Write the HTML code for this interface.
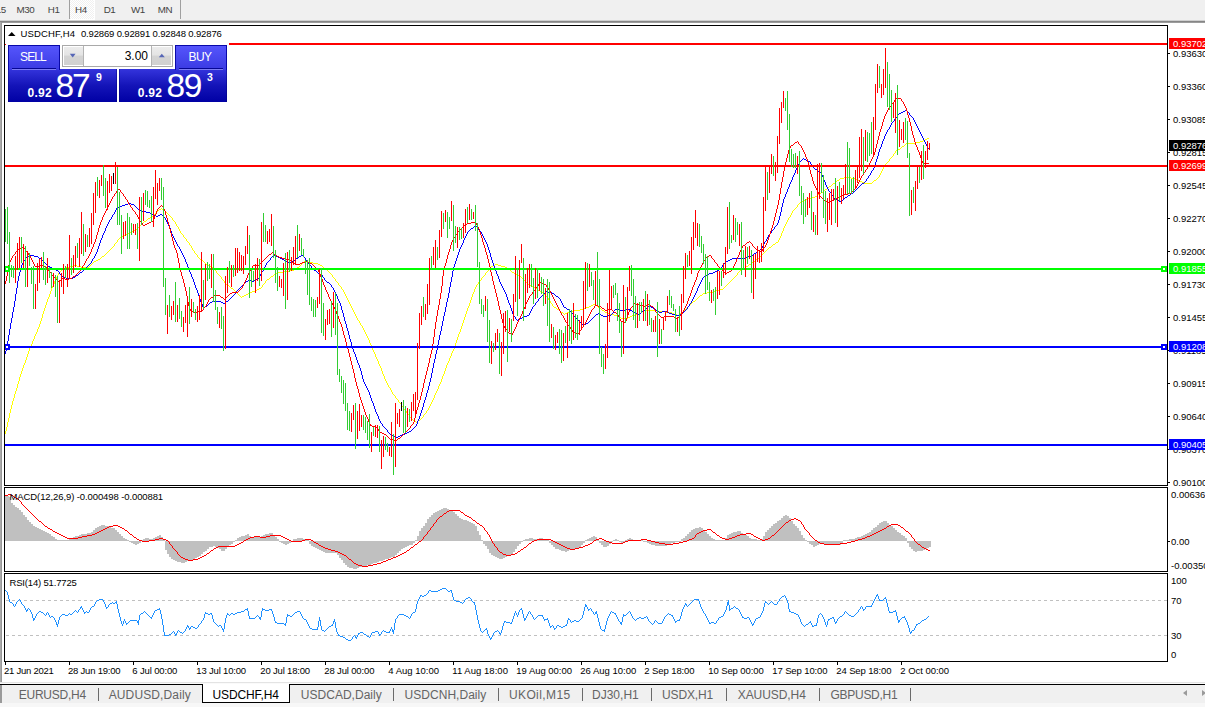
<!DOCTYPE html>
<html><head><meta charset="utf-8"><title>USDCHF,H4</title>
<style>
html,body{margin:0;padding:0}
html{overflow:hidden;width:1205px;height:707px}
body{width:1205px;height:707px;overflow:hidden;background:#fff;position:relative;font-family:"Liberation Sans",sans-serif}
#top{position:absolute;left:0;top:0;width:1205px;height:20px;background:#f0f0f0}
#topl1{position:absolute;left:0;top:20px;width:1205px;height:1px;background:#d0d0d0}
#topl2{position:absolute;left:0;top:21px;width:1205px;height:1px;background:#868686}
#topl3{position:absolute;left:0;top:22px;width:1205px;height:1px;background:#9c9c9c}
#leftstrip{position:absolute;left:0;top:22px;width:2px;height:661px;background:linear-gradient(90deg,#b4b4b4,#8e8e8e)}
.tf{position:absolute;top:3.9px;font-size:9.8px;line-height:11px;color:#444;letter-spacing:-0.45px}
#h4bg{position:absolute;left:70px;top:0;width:24px;height:19px;background:conic-gradient(#fff 25%,#f0f0f0 0 50%,#fff 0 75%,#f0f0f0 0);background-size:2px 2px;border-right:1px solid #fff;border-bottom:1px solid #fff}
.vsep{position:absolute;top:0;width:1px;height:19px;background:#a0a0a0}
svg{position:absolute;left:0;top:0}
svg text{font-family:"Liberation Sans",sans-serif}
#tabbar{position:absolute;left:0;top:682px;width:1205px;height:25px;background:#f7f7f7}
#tabbar .l1{position:absolute;left:0;top:0;width:1205px;height:1px;background:#e3e3e3}
#tabbar .l0{position:absolute;left:0;top:1px;width:1205px;height:1px;background:#fafafa}
#tabbar .l2{position:absolute;left:0;top:2px;width:1205px;height:1px;background:#000}
#tabbar .bg{position:absolute;left:0;top:3px;width:1205px;height:18px;background:#f0f0f0}
#tabbar .ls{position:absolute;left:0;top:3px;width:2px;height:18px;background:#9a9a9a}
.tab{position:absolute;top:6px;font-size:12px;line-height:14px;color:#646464;letter-spacing:-0.3px;white-space:nowrap}
.tab.act{color:#000}
.sep{position:absolute;top:6px;width:1px;height:13px;background:#6a6a6a}
#acttab{position:absolute;left:202px;top:2px;width:86px;height:18px;background:#fff;border:1px solid #000;border-top:none}
.arr{position:absolute;top:8px;width:0;height:0;border-top:3.5px solid transparent;border-bottom:3.5px solid transparent}
/* trade panel */
#tp{position:absolute;left:8px;top:45px;width:219px;height:57px}
#tp div,#tp span{position:absolute}
.btn{top:0;width:52px;height:25px;background:linear-gradient(#5656fd,#3a3ae2);box-shadow:inset 1px 1px 0 #0808a8,inset -1px 0 0 #0808a8}
.btn span{left:-1px;width:52px;text-align:center;top:5.6px;font-size:12px;line-height:12px;color:#fff;letter-spacing:-0.9px}
.pp{top:24px;height:33px;background:linear-gradient(#3434dc,#1414b8 50%,#0000a4);box-shadow:inset 1px 0 0 rgba(0,0,120,.45),inset -1px 0 0 rgba(0,0,120,.45)}
.ul{top:23px;height:1px;background:#060692}
.ul2{top:24px;height:1px;background:#7c7cf2}
.small{font-size:12px;font-weight:bold;color:#fff;line-height:12px;letter-spacing:0.3px}
.big{font-size:33.5px;color:#fff;line-height:34px;letter-spacing:-2.2px}
.big.r{letter-spacing:-1.4px}
.sup{font-size:10.5px;font-weight:bold;color:#fff;line-height:11px}
#vol{left:54px;top:0;width:109px;height:20px;border:1px solid #a9a9a9;background:#fff}
.sp{top:1px;width:19px;height:18px;background:linear-gradient(#ececec,#e4e4e4 45%,#d4d4d4 50%,#d0d0d0)}
</style></head><body>
<div id="top"></div><div id="topl1"></div><div id="topl2"></div><div id="topl3"></div>
<div id="h4bg"></div><i class="vsep" style="left:69px"></i><i class="vsep" style="left:180px"></i>
<span class="tf" style="left:-4.2px">15</span><span class="tf" style="left:16.6px">M30</span><span class="tf" style="left:47.8px">H1</span><span class="tf" style="left:75px">H4</span><span class="tf" style="left:103.7px">D1</span><span class="tf" style="left:131px">W1</span><span class="tf" style="left:157.7px">MN</span>
<div id="leftstrip"></div>
<svg width="1205" height="707" viewBox="0 0 1205 707" shape-rendering="crispEdges">
<path d="M5.5 431V434M6.5 427V431M7.5 422V427M8.5 418V422M9.5 413V418M10.5 409V413M11.5 405V409M12.5 401V405M13.5 398V401M14.5 394V398M15.5 391V394M16.5 388V391M17.5 384V388M18.5 381V384M19.5 377V381M20.5 374V377M21.5 371V374M22.5 368V371M23.5 365V368M24.5 363V365M25.5 360V363M26.5 357V360M27.5 354V357M28.5 351V354M29.5 348V351M30.5 346V348M31.5 344V346M32.5 341V344M33.5 339V341M34.5 336V339M35.5 334V336M36.5 332V334M37.5 329V332M38.5 327V329M39.5 324V327M40.5 321V324M41.5 318V321M42.5 314V318M43.5 311V314M44.5 308V311M45.5 305V308M46.5 302V305M47.5 299V302M48.5 297V299M49.5 294V297M50.5 291V294M51.5 288V291M52.5 286V288M53.5 284V286M54.5 281V284M55.5 279V281M56.5 277V279M57.5 275V277M58.5 273V275M59.5 272V273M60.5 271V272M61.5 269V271M62.5 268V269M63.5 268V269M64.5 268V269M65.5 267V268M66.5 267V268M67.5 267V268M68.5 267V268M69.5 267V268M70.5 266V267M71.5 266V267M72.5 266V267M73.5 266V267M74.5 265V266M75.5 265V266M76.5 265V266M77.5 266V267M78.5 266V267M79.5 266V267M80.5 266V267M81.5 267V268M82.5 267V268M83.5 267V268M84.5 267V268M85.5 267V268M86.5 267V268M87.5 267V268M88.5 267V268M89.5 266V267M90.5 265V266M91.5 264V265M92.5 263V264M93.5 262V263M94.5 261V262M95.5 261V262M96.5 260V261M97.5 260V261M98.5 259V260M99.5 259V260M100.5 258V259M101.5 257V258M102.5 256V257M103.5 256V257M104.5 255V256M105.5 254V255M106.5 253V254M107.5 252V253M108.5 251V252M109.5 250V251M110.5 249V250M111.5 248V249M112.5 247V248M113.5 246V247M114.5 244V246M115.5 243V244M116.5 242V243M117.5 240V242M118.5 239V240M119.5 238V239M120.5 237V238M121.5 237V238M122.5 236V237M123.5 236V237M124.5 235V236M125.5 235V236M126.5 234V235M127.5 234V235M128.5 233V234M129.5 233V234M130.5 232V233M131.5 232V233M132.5 231V232M133.5 231V232M134.5 230V231M135.5 230V231M136.5 229V230M137.5 228V229M138.5 227V228M139.5 226V227M140.5 225V226M141.5 224V225M142.5 223V224M143.5 222V223M144.5 221V222M145.5 221V222M146.5 220V221M147.5 219V220M148.5 218V219M149.5 218V219M150.5 217V218M151.5 216V217M152.5 216V217M153.5 215V216M154.5 214V215M155.5 213V214M156.5 212V213M157.5 211V212M158.5 210V211M159.5 209V210M160.5 209V210M161.5 208V209M162.5 209V210M163.5 210V211M164.5 210V211M165.5 211V212M166.5 212V213M167.5 213V214M168.5 214V215M169.5 215V216M170.5 216V217M171.5 217V218M172.5 218V220M173.5 220V221M174.5 221V222M175.5 222V224M176.5 224V226M177.5 226V227M178.5 227V229M179.5 229V231M180.5 231V233M181.5 233V234M182.5 234V235M183.5 235V237M184.5 237V238M185.5 238V239M186.5 239V241M187.5 241V242M188.5 242V243M189.5 243V245M190.5 245V246M191.5 246V248M192.5 248V250M193.5 250V251M194.5 251V253M195.5 253V254M196.5 254V255M197.5 255V257M198.5 257V258M199.5 258V259M200.5 259V260M201.5 260V261M202.5 260V261M203.5 261V262M204.5 262V263M205.5 263V264M206.5 264V265M207.5 264V265M208.5 265V266M209.5 265V266M210.5 266V267M211.5 266V267M212.5 267V268M213.5 268V269M214.5 269V270M215.5 270V271M216.5 271V273M217.5 273V274M218.5 274V275M219.5 275V276M220.5 276V277M221.5 277V279M222.5 279V280M223.5 280V281M224.5 281V283M225.5 283V284M226.5 284V285M227.5 285V286M228.5 285V286M229.5 286V287M230.5 287V288M231.5 288V289M232.5 288V289M233.5 289V290M234.5 290V291M235.5 291V292M236.5 292V293M237.5 293V294M238.5 294V295M239.5 295V296M240.5 296V297M241.5 297V298M242.5 296V297M243.5 296V297M244.5 295V296M245.5 295V296M246.5 294V295M247.5 294V295M248.5 293V294M249.5 293V294M250.5 292V293M251.5 292V293M252.5 291V292M253.5 291V292M254.5 291V292M255.5 290V291M256.5 290V291M257.5 289V290M258.5 289V290M259.5 288V289M260.5 288V289M261.5 287V288M262.5 285V287M263.5 284V285M264.5 283V284M265.5 281V283M266.5 280V281M267.5 279V280M268.5 279V280M269.5 278V279M270.5 277V278M271.5 276V277M272.5 276V277M273.5 275V276M274.5 274V275M275.5 274V275M276.5 273V274M277.5 273V274M278.5 272V273M279.5 272V273M280.5 272V273M281.5 272V273M282.5 272V273M283.5 271V272M284.5 271V272M285.5 271V272M286.5 271V272M287.5 271V272M288.5 271V272M289.5 271V272M290.5 270V271M291.5 270V271M292.5 270V271M293.5 270V271M294.5 269V270M295.5 269V270M296.5 268V269M297.5 267V268M298.5 267V268M299.5 266V267M300.5 265V266M301.5 264V265M302.5 263V264M303.5 262V263M304.5 261V262M305.5 261V262M306.5 261V262M307.5 262V263M308.5 262V263M309.5 262V263M310.5 262V263M311.5 262V263M312.5 262V263M313.5 263V264M314.5 263V264M315.5 263V264M316.5 263V264M317.5 263V264M318.5 264V265M319.5 264V265M320.5 265V266M321.5 265V266M322.5 266V267M323.5 267V268M324.5 268V269M325.5 269V270M326.5 269V270M327.5 270V271M328.5 271V272M329.5 272V273M330.5 273V274M331.5 274V275M332.5 275V277M333.5 277V278M334.5 278V279M335.5 279V281M336.5 281V282M337.5 282V283M338.5 283V285M339.5 285V286M340.5 286V287M341.5 287V289M342.5 289V290M343.5 290V292M344.5 292V294M345.5 294V296M346.5 296V298M347.5 298V300M348.5 300V302M349.5 302V304M350.5 304V306M351.5 306V308M352.5 308V310M353.5 310V312M354.5 312V314M355.5 314V316M356.5 316V318M357.5 318V320M358.5 320V321M359.5 321V323M360.5 323V325M361.5 325V326M362.5 326V328M363.5 328V330M364.5 330V332M365.5 332V334M366.5 334V336M367.5 336V338M368.5 338V340M369.5 340V343M370.5 343V345M371.5 345V347M372.5 347V350M373.5 350V352M374.5 352V354M375.5 354V357M376.5 357V359M377.5 359V361M378.5 361V364M379.5 364V366M380.5 366V368M381.5 368V371M382.5 371V374M383.5 374V376M384.5 376V379M385.5 379V381M386.5 381V383M387.5 383V385M388.5 385V387M389.5 387V388M390.5 388V390M391.5 390V392M392.5 392V394M393.5 394V395M394.5 395V396M395.5 396V398M396.5 398V399M397.5 399V400M398.5 400V402M399.5 402V403M400.5 403V404M401.5 404V406M402.5 406V407M403.5 407V409M404.5 409V410M405.5 410V411M406.5 411V413M407.5 413V414M408.5 414V415M409.5 415V417M410.5 417V418M411.5 418V419M412.5 419V420M413.5 420V421M414.5 420V421M415.5 421V422M416.5 422V423M417.5 421V422M418.5 420V421M419.5 420V421M420.5 419V420M421.5 418V419M422.5 417V418M423.5 415V417M424.5 414V415M425.5 413V414M426.5 411V413M427.5 410V411M428.5 408V410M429.5 406V408M430.5 404V406M431.5 402V404M432.5 400V402M433.5 398V400M434.5 395V398M435.5 393V395M436.5 391V393M437.5 389V391M438.5 386V389M439.5 384V386M440.5 382V384M441.5 379V382M442.5 376V379M443.5 374V376M444.5 371V374M445.5 368V371M446.5 365V368M447.5 363V365M448.5 361V363M449.5 358V361M450.5 356V358M451.5 353V356M452.5 351V353M453.5 349V351M454.5 346V349M455.5 343V346M456.5 340V343M457.5 337V340M458.5 334V337M459.5 332V334M460.5 329V332M461.5 326V329M462.5 323V326M463.5 320V323M464.5 317V320M465.5 314V317M466.5 311V314M467.5 308V311M468.5 306V308M469.5 303V306M470.5 300V303M471.5 297V300M472.5 294V297M473.5 292V294M474.5 289V292M475.5 287V289M476.5 285V287M477.5 284V285M478.5 282V284M479.5 281V282M480.5 280V281M481.5 278V280M482.5 277V278M483.5 276V277M484.5 275V276M485.5 273V275M486.5 272V273M487.5 271V272M488.5 269V271M489.5 268V269M490.5 267V268M491.5 266V267M492.5 266V267M493.5 265V266M494.5 265V266M495.5 264V265M496.5 264V265M497.5 264V265M498.5 265V266M499.5 265V266M500.5 265V266M501.5 266V267M502.5 266V267M503.5 266V267M504.5 266V267M505.5 267V268M506.5 267V268M507.5 268V269M508.5 269V270M509.5 269V270M510.5 270V271M511.5 271V272M512.5 272V273M513.5 272V273M514.5 273V274M515.5 274V275M516.5 274V275M517.5 275V276M518.5 275V276M519.5 276V277M520.5 276V277M521.5 277V278M522.5 278V279M523.5 279V280M524.5 280V281M525.5 281V282M526.5 282V283M527.5 283V284M528.5 284V285M529.5 284V285M530.5 285V286M531.5 285V286M532.5 286V287M533.5 286V287M534.5 287V288M535.5 288V289M536.5 288V289M537.5 289V290M538.5 290V291M539.5 290V291M540.5 291V292M541.5 291V292M542.5 292V293M543.5 293V294M544.5 294V295M545.5 295V296M546.5 296V297M547.5 297V298M548.5 298V300M549.5 300V301M550.5 301V303M551.5 303V304M552.5 304V306M553.5 306V307M554.5 307V308M555.5 307V308M556.5 308V309M557.5 309V310M558.5 309V310M559.5 310V311M560.5 311V312M561.5 312V313M562.5 312V313M563.5 313V314M564.5 314V315M565.5 313V314M566.5 313V314M567.5 312V313M568.5 312V313M569.5 311V312M570.5 311V312M571.5 311V312M572.5 311V312M573.5 311V312M574.5 310V311M575.5 310V311M576.5 310V311M577.5 310V311M578.5 310V311M579.5 310V311M580.5 309V310M581.5 309V310M582.5 309V310M583.5 308V309M584.5 308V309M585.5 308V309M586.5 307V308M587.5 307V308M588.5 307V308M589.5 306V307M590.5 306V307M591.5 305V306M592.5 305V306M593.5 304V305M594.5 304V305M595.5 305V306M596.5 305V306M597.5 306V307M598.5 307V308M599.5 307V308M600.5 308V309M601.5 309V310M602.5 310V311M603.5 310V311M604.5 311V312M605.5 312V313M606.5 312V313M607.5 313V314M608.5 313V314M609.5 313V314M610.5 314V315M611.5 314V315M612.5 314V315M613.5 314V315M614.5 315V316M615.5 315V316M616.5 315V316M617.5 315V316M618.5 316V317M619.5 317V318M620.5 317V318M621.5 318V319M622.5 318V319M623.5 318V319M624.5 318V319M625.5 318V319M626.5 318V319M627.5 318V319M628.5 317V318M629.5 317V318M630.5 316V317M631.5 316V317M632.5 315V316M633.5 315V316M634.5 315V316M635.5 314V315M636.5 314V315M637.5 314V315M638.5 314V315M639.5 313V314M640.5 313V314M641.5 312V313M642.5 311V312M643.5 311V312M644.5 310V311M645.5 310V311M646.5 310V311M647.5 310V311M648.5 310V311M649.5 310V311M650.5 310V311M651.5 310V311M652.5 310V311M653.5 310V311M654.5 310V311M655.5 310V311M656.5 310V311M657.5 310V311M658.5 311V312M659.5 311V312M660.5 311V312M661.5 311V312M662.5 311V312M663.5 311V312M664.5 311V312M665.5 311V312M666.5 312V313M667.5 312V313M668.5 312V313M669.5 312V313M670.5 312V313M671.5 312V313M672.5 313V314M673.5 313V314M674.5 314V315M675.5 314V315M676.5 314V315M677.5 315V316M678.5 315V316M679.5 314V315M680.5 313V314M681.5 313V314M682.5 312V313M683.5 311V312M684.5 310V311M685.5 309V310M686.5 308V309M687.5 307V308M688.5 306V307M689.5 305V306M690.5 304V305M691.5 303V304M692.5 302V303M693.5 301V302M694.5 301V302M695.5 300V301M696.5 299V300M697.5 298V299M698.5 297V298M699.5 296V297M700.5 295V296M701.5 295V296M702.5 294V295M703.5 293V294M704.5 293V294M705.5 293V294M706.5 293V294M707.5 292V293M708.5 292V293M709.5 292V293M710.5 292V293M711.5 292V293M712.5 292V293M713.5 291V292M714.5 291V292M715.5 291V292M716.5 290V291M717.5 290V291M718.5 290V291M719.5 290V291M720.5 289V290M721.5 289V290M722.5 289V290M723.5 288V289M724.5 287V288M725.5 286V287M726.5 285V286M727.5 284V285M728.5 283V284M729.5 282V283M730.5 281V282M731.5 280V281M732.5 279V280M733.5 278V279M734.5 277V278M735.5 276V277M736.5 275V276M737.5 273V275M738.5 272V273M739.5 271V272M740.5 270V271M741.5 270V271M742.5 269V270M743.5 268V269M744.5 268V269M745.5 267V268M746.5 266V267M747.5 266V267M748.5 265V266M749.5 264V265M750.5 264V265M751.5 263V264M752.5 262V263M753.5 261V262M754.5 261V262M755.5 260V261M756.5 259V260M757.5 259V260M758.5 258V259M759.5 257V258M760.5 256V257M761.5 255V256M762.5 254V255M763.5 253V254M764.5 252V253M765.5 251V252M766.5 250V251M767.5 249V250M768.5 248V249M769.5 247V248M770.5 247V248M771.5 246V247M772.5 245V246M773.5 244V245M774.5 244V245M775.5 243V244M776.5 242V243M777.5 242V243M778.5 240V242M779.5 238V240M780.5 236V238M781.5 233V236M782.5 231V233M783.5 228V231M784.5 226V228M785.5 224V226M786.5 222V224M787.5 220V222M788.5 218V220M789.5 217V218M790.5 215V217M791.5 213V215M792.5 211V213M793.5 210V211M794.5 209V210M795.5 208V209M796.5 207V208M797.5 205V207M798.5 204V205M799.5 203V204M800.5 202V203M801.5 201V202M802.5 201V202M803.5 200V201M804.5 200V201M805.5 199V200M806.5 199V200M807.5 198V199M808.5 198V199M809.5 198V199M810.5 198V199M811.5 197V198M812.5 197V198M813.5 197V198M814.5 197V198M815.5 196V197M816.5 196V197M817.5 195V196M818.5 194V195M819.5 194V195M820.5 193V194M821.5 192V193M822.5 192V193M823.5 191V192M824.5 190V191M825.5 189V190M826.5 189V190M827.5 188V189M828.5 187V188M829.5 186V187M830.5 186V187M831.5 185V186M832.5 184V185M833.5 183V184M834.5 183V184M835.5 182V183M836.5 181V182M837.5 180V181M838.5 180V181M839.5 179V180M840.5 178V179M841.5 178V179M842.5 178V179M843.5 178V179M844.5 177V178M845.5 177V178M846.5 177V178M847.5 177V178M848.5 177V178M849.5 177V178M850.5 177V178M851.5 178V179M852.5 178V179M853.5 178V179M854.5 178V179M855.5 179V180M856.5 179V180M857.5 179V180M858.5 180V181M859.5 180V181M860.5 181V182M861.5 181V182M862.5 182V183M863.5 182V183M864.5 183V184M865.5 183V184M866.5 183V184M867.5 183V184M868.5 183V184M869.5 183V184M870.5 183V184M871.5 183V184M872.5 182V183M873.5 181V182M874.5 180V181M875.5 180V181M876.5 179V180M877.5 178V179M878.5 177V178M879.5 175V177M880.5 173V175M881.5 171V173M882.5 169V171M883.5 167V169M884.5 165V167M885.5 164V165M886.5 163V164M887.5 162V163M888.5 161V162M889.5 159V161M890.5 158V159M891.5 157V158M892.5 156V157M893.5 154V156M894.5 153V154M895.5 151V153M896.5 150V151M897.5 150V151M898.5 149V150M899.5 149V150M900.5 148V149M901.5 147V148M902.5 146V147M903.5 146V147M904.5 145V146M905.5 144V145M906.5 143V144M907.5 143V144M908.5 143V144M909.5 143V144M910.5 143V144M911.5 143V144M912.5 143V144M913.5 143V144M914.5 143V144M915.5 143V144M916.5 142V143M917.5 142V143M918.5 142V143M919.5 142V143M920.5 141V142M921.5 141V142M922.5 141V142M923.5 140V141M924.5 140V141M925.5 139V140M926.5 139V140M927.5 138V139M928.5 138V139" fill="none" stroke="#ffff00" stroke-width="1"/>
<path d="M5.5 351V354M6.5 346V351M7.5 341V346M8.5 335V341M9.5 329V335M10.5 323V329M11.5 318V323M12.5 312V318M13.5 307V312M14.5 301V307M15.5 294V301M16.5 288V294M17.5 281V288M18.5 276V281M19.5 272V276M20.5 269V272M21.5 265V269M22.5 263V265M23.5 261V263M24.5 260V261M25.5 258V260M26.5 257V258M27.5 256V257M28.5 256V257M29.5 255V256M30.5 255V256M31.5 255V256M32.5 255V256M33.5 255V256M34.5 256V257M35.5 256V257M36.5 256V257M37.5 256V257M38.5 257V258M39.5 258V259M40.5 258V259M41.5 259V260M42.5 260V261M43.5 261V262M44.5 262V263M45.5 263V264M46.5 264V265M47.5 265V266M48.5 266V267M49.5 266V267M50.5 267V268M51.5 267V268M52.5 268V269M53.5 268V269M54.5 269V270M55.5 269V270M56.5 270V271M57.5 270V271M58.5 271V272M59.5 272V274M60.5 274V275M61.5 275V276M62.5 276V277M63.5 276V277M64.5 277V278M65.5 277V278M66.5 278V279M67.5 278V279M68.5 278V279M69.5 278V279M70.5 278V279M71.5 278V279M72.5 278V279M73.5 277V278M74.5 277V278M75.5 276V277M76.5 275V276M77.5 275V276M78.5 274V275M79.5 273V274M80.5 272V273M81.5 272V273M82.5 271V272M83.5 270V271M84.5 269V270M85.5 268V269M86.5 267V268M87.5 266V267M88.5 265V266M89.5 264V265M90.5 263V264M91.5 261V263M92.5 259V261M93.5 258V259M94.5 256V258M95.5 254V256M96.5 252V254M97.5 249V252M98.5 246V249M99.5 243V246M100.5 240V243M101.5 238V240M102.5 235V238M103.5 233V235M104.5 231V233M105.5 228V231M106.5 226V228M107.5 224V226M108.5 222V224M109.5 220V222M110.5 219V220M111.5 217V219M112.5 215V217M113.5 214V215M114.5 212V214M115.5 210V212M116.5 208V210M117.5 207V208M118.5 207V208M119.5 206V207M120.5 206V207M121.5 206V207M122.5 205V206M123.5 205V206M124.5 205V206M125.5 204V205M126.5 204V205M127.5 204V205M128.5 203V204M129.5 203V204M130.5 203V204M131.5 204V205M132.5 204V205M133.5 204V205M134.5 205V206M135.5 206V207M136.5 207V208M137.5 208V209M138.5 209V210M139.5 209V210M140.5 210V211M141.5 210V211M142.5 211V212M143.5 211V212M144.5 211V212M145.5 211V212M146.5 212V213M147.5 212V213M148.5 212V213M149.5 212V213M150.5 213V214M151.5 213V214M152.5 214V215M153.5 214V215M154.5 215V216M155.5 215V216M156.5 216V217M157.5 216V217M158.5 215V216M159.5 215V216M160.5 214V215M161.5 214V215M162.5 215V216M163.5 216V217M164.5 217V218M165.5 218V220M166.5 220V222M167.5 222V224M168.5 224V226M169.5 226V228M170.5 228V231M171.5 231V234M172.5 234V236M173.5 236V238M174.5 238V240M175.5 240V242M176.5 242V244M177.5 244V246M178.5 246V247M179.5 247V249M180.5 249V251M181.5 251V253M182.5 253V255M183.5 255V257M184.5 257V259M185.5 259V262M186.5 262V264M187.5 264V267M188.5 267V269M189.5 269V272M190.5 272V274M191.5 274V277M192.5 277V279M193.5 279V282M194.5 282V285M195.5 285V288M196.5 288V290M197.5 290V293M198.5 293V296M199.5 296V299M200.5 299V302M201.5 302V304M202.5 304V307M203.5 307V309M204.5 307V308M205.5 306V307M206.5 306V307M207.5 305V306M208.5 304V305M209.5 303V304M210.5 302V303M211.5 302V303M212.5 301V302M213.5 301V302M214.5 301V302M215.5 301V302M216.5 301V302M217.5 301V302M218.5 301V302M219.5 301V302M220.5 301V302M221.5 302V303M222.5 302V303M223.5 303V304M224.5 303V304M225.5 302V303M226.5 301V302M227.5 301V302M228.5 300V301M229.5 299V300M230.5 298V299M231.5 297V298M232.5 296V297M233.5 295V296M234.5 294V295M235.5 293V294M236.5 291V293M237.5 290V291M238.5 289V290M239.5 288V289M240.5 287V288M241.5 286V287M242.5 285V286M243.5 284V285M244.5 283V284M245.5 282V283M246.5 281V282M247.5 281V282M248.5 280V281M249.5 280V281M250.5 280V281M251.5 281V282M252.5 281V282M253.5 281V282M254.5 280V281M255.5 280V281M256.5 279V280M257.5 279V280M258.5 278V279M259.5 276V278M260.5 274V276M261.5 272V274M262.5 271V272M263.5 269V271M264.5 267V269M265.5 265V267M266.5 263V265M267.5 262V263M268.5 261V262M269.5 260V261M270.5 258V260M271.5 257V258M272.5 256V257M273.5 255V256M274.5 255V256M275.5 256V257M276.5 256V257M277.5 256V257M278.5 257V258M279.5 257V258M280.5 258V259M281.5 258V259M282.5 259V260M283.5 259V260M284.5 260V261M285.5 260V261M286.5 261V262M287.5 261V262M288.5 262V263M289.5 262V263M290.5 262V263M291.5 261V262M292.5 261V262M293.5 260V261M294.5 260V261M295.5 259V260M296.5 258V259M297.5 258V259M298.5 257V258M299.5 256V257M300.5 256V257M301.5 255V256M302.5 255V256M303.5 256V257M304.5 257V258M305.5 258V260M306.5 260V261M307.5 261V262M308.5 262V264M309.5 264V265M310.5 265V266M311.5 266V268M312.5 268V269M313.5 269V270M314.5 270V271M315.5 270V271M316.5 271V272M317.5 272V273M318.5 273V274M319.5 273V274M320.5 274V275M321.5 274V275M322.5 275V277M323.5 277V278M324.5 278V280M325.5 280V281M326.5 281V282M327.5 282V283M328.5 282V283M329.5 283V284M330.5 284V285M331.5 285V287M332.5 287V288M333.5 288V290M334.5 290V292M335.5 292V294M336.5 294V296M337.5 296V299M338.5 299V301M339.5 301V303M340.5 303V306M341.5 306V310M342.5 310V313M343.5 313V317M344.5 317V321M345.5 321V324M346.5 324V328M347.5 328V331M348.5 331V335M349.5 335V339M350.5 339V342M351.5 342V346M352.5 346V349M353.5 349V352M354.5 352V354M355.5 354V357M356.5 357V360M357.5 360V363M358.5 363V365M359.5 365V368M360.5 368V371M361.5 371V375M362.5 375V379M363.5 379V382M364.5 382V384M365.5 384V386M366.5 386V388M367.5 388V390M368.5 390V392M369.5 392V395M370.5 395V398M371.5 398V401M372.5 401V403M373.5 403V406M374.5 406V409M375.5 409V412M376.5 412V414M377.5 414V416M378.5 416V419M379.5 419V421M380.5 421V423M381.5 423V424M382.5 424V426M383.5 426V427M384.5 427V428M385.5 428V429M386.5 429V430M387.5 430V432M388.5 432V433M389.5 433V434M390.5 434V435M391.5 434V435M392.5 435V436M393.5 435V436M394.5 436V437M395.5 436V437M396.5 437V438M397.5 437V438M398.5 436V437M399.5 436V437M400.5 435V436M401.5 435V436M402.5 434V435M403.5 434V435M404.5 434V435M405.5 433V434M406.5 433V434M407.5 432V433M408.5 432V433M409.5 431V432M410.5 431V432M411.5 430V431M412.5 429V430M413.5 428V429M414.5 427V428M415.5 426V427M416.5 424V426M417.5 421V424M418.5 419V421M419.5 416V419M420.5 413V416M421.5 410V413M422.5 407V410M423.5 403V407M424.5 400V403M425.5 397V400M426.5 393V397M427.5 390V393M428.5 386V390M429.5 382V386M430.5 378V382M431.5 373V378M432.5 368V373M433.5 363V368M434.5 359V363M435.5 354V359M436.5 350V354M437.5 345V350M438.5 340V345M439.5 335V340M440.5 331V335M441.5 326V331M442.5 321V326M443.5 316V321M444.5 312V316M445.5 307V312M446.5 302V307M447.5 298V302M448.5 293V298M449.5 287V293M450.5 282V287M451.5 277V282M452.5 271V277M453.5 267V271M454.5 264V267M455.5 261V264M456.5 258V261M457.5 255V258M458.5 252V255M459.5 249V252M460.5 247V249M461.5 245V247M462.5 243V245M463.5 240V243M464.5 238V240M465.5 236V238M466.5 234V236M467.5 232V234M468.5 231V232M469.5 230V231M470.5 229V230M471.5 228V229M472.5 228V229M473.5 227V228M474.5 226V227M475.5 225V226M476.5 226V227M477.5 227V228M478.5 228V230M479.5 230V231M480.5 231V232M481.5 232V234M482.5 234V236M483.5 236V238M484.5 238V240M485.5 240V242M486.5 242V244M487.5 244V247M488.5 247V250M489.5 250V253M490.5 253V257M491.5 257V260M492.5 260V263M493.5 263V266M494.5 266V268M495.5 268V271M496.5 271V274M497.5 274V276M498.5 276V279M499.5 279V282M500.5 282V284M501.5 284V286M502.5 286V288M503.5 288V290M504.5 290V292M505.5 292V294M506.5 294V297M507.5 297V300M508.5 300V303M509.5 303V305M510.5 305V308M511.5 308V311M512.5 311V314M513.5 314V316M514.5 316V317M515.5 317V319M516.5 319V320M517.5 320V321M518.5 319V320M519.5 319V320M520.5 318V319M521.5 318V319M522.5 317V318M523.5 317V318M524.5 316V317M525.5 316V317M526.5 316V317M527.5 315V316M528.5 315V316M529.5 313V315M530.5 311V313M531.5 309V311M532.5 307V309M533.5 306V307M534.5 305V306M535.5 303V305M536.5 302V303M537.5 301V302M538.5 299V301M539.5 298V299M540.5 297V298M541.5 296V297M542.5 295V296M543.5 294V295M544.5 293V294M545.5 292V293M546.5 291V292M547.5 291V292M548.5 292V293M549.5 292V293M550.5 292V293M551.5 292V293M552.5 293V294M553.5 293V294M554.5 294V295M555.5 295V296M556.5 296V297M557.5 296V297M558.5 297V298M559.5 298V299M560.5 299V301M561.5 301V303M562.5 303V305M563.5 305V307M564.5 307V308M565.5 307V308M566.5 308V309M567.5 309V310M568.5 309V310M569.5 310V311M570.5 311V312M571.5 312V313M572.5 313V314M573.5 314V316M574.5 316V317M575.5 317V318M576.5 318V319M577.5 319V320M578.5 320V321M579.5 321V322M580.5 322V323M581.5 323V324M582.5 324V325M583.5 325V326M584.5 324V325M585.5 324V325M586.5 323V324M587.5 323V324M588.5 322V323M589.5 321V322M590.5 320V321M591.5 319V320M592.5 318V319M593.5 317V318M594.5 316V317M595.5 315V316M596.5 314V315M597.5 314V315M598.5 313V314M599.5 314V315M600.5 314V315M601.5 315V316M602.5 315V316M603.5 316V317M604.5 316V317M605.5 316V317M606.5 316V317M607.5 315V316M608.5 315V316M609.5 315V316M610.5 315V316M611.5 314V315M612.5 313V314M613.5 311V313M614.5 310V311M615.5 309V310M616.5 309V310M617.5 309V310M618.5 309V310M619.5 310V311M620.5 310V311M621.5 310V311M622.5 310V311M623.5 310V311M624.5 310V311M625.5 310V311M626.5 309V310M627.5 309V310M628.5 309V310M629.5 309V310M630.5 310V311M631.5 310V311M632.5 311V312M633.5 311V312M634.5 312V313M635.5 313V314M636.5 313V314M637.5 314V315M638.5 314V315M639.5 313V314M640.5 313V314M641.5 312V313M642.5 311V312M643.5 311V312M644.5 310V311M645.5 309V310M646.5 308V309M647.5 307V308M648.5 306V307M649.5 305V306M650.5 306V307M651.5 307V308M652.5 307V308M653.5 308V309M654.5 309V310M655.5 309V310M656.5 310V311M657.5 311V312M658.5 311V312M659.5 312V313M660.5 312V313M661.5 312V313M662.5 311V312M663.5 311V312M664.5 311V312M665.5 311V312M666.5 311V312M667.5 312V313M668.5 312V313M669.5 313V314M670.5 313V314M671.5 313V314M672.5 314V315M673.5 314V315M674.5 314V315M675.5 315V316M676.5 315V316M677.5 315V316M678.5 315V316M679.5 314V315M680.5 314V315M681.5 314V315M682.5 313V314M683.5 312V313M684.5 311V312M685.5 310V311M686.5 309V310M687.5 307V309M688.5 306V307M689.5 304V306M690.5 303V304M691.5 301V303M692.5 299V301M693.5 297V299M694.5 295V297M695.5 293V295M696.5 291V293M697.5 288V291M698.5 286V288M699.5 284V286M700.5 282V284M701.5 280V282M702.5 278V280M703.5 277V278M704.5 276V277M705.5 276V277M706.5 275V276M707.5 274V275M708.5 274V275M709.5 273V274M710.5 273V274M711.5 273V274M712.5 273V274M713.5 272V273M714.5 272V273M715.5 271V272M716.5 271V272M717.5 270V271M718.5 270V271M719.5 269V270M720.5 268V269M721.5 267V268M722.5 265V267M723.5 264V265M724.5 263V264M725.5 262V263M726.5 261V262M727.5 261V262M728.5 260V261M729.5 260V261M730.5 259V260M731.5 259V260M732.5 258V259M733.5 258V259M734.5 258V259M735.5 258V259M736.5 258V259M737.5 258V259M738.5 258V259M739.5 258V259M740.5 258V259M741.5 258V259M742.5 258V259M743.5 258V259M744.5 258V259M745.5 258V259M746.5 257V258M747.5 257V258M748.5 256V257M749.5 256V257M750.5 256V257M751.5 255V256M752.5 255V256M753.5 254V255M754.5 253V254M755.5 253V254M756.5 252V253M757.5 251V252M758.5 250V251M759.5 250V251M760.5 249V250M761.5 248V249M762.5 246V248M763.5 244V246M764.5 242V244M765.5 241V242M766.5 239V241M767.5 237V239M768.5 235V237M769.5 234V235M770.5 233V234M771.5 231V233M772.5 230V231M773.5 229V230M774.5 227V229M775.5 226V227M776.5 225V226M777.5 223V225M778.5 220V223M779.5 216V220M780.5 212V216M781.5 207V212M782.5 203V207M783.5 199V203M784.5 197V199M785.5 194V197M786.5 192V194M787.5 189V192M788.5 187V189M789.5 184V187M790.5 182V184M791.5 180V182M792.5 177V180M793.5 175V177M794.5 173V175M795.5 170V173M796.5 168V170M797.5 166V168M798.5 164V166M799.5 162V164M800.5 161V162M801.5 160V161M802.5 159V160M803.5 158V159M804.5 159V160M805.5 159V160M806.5 160V161M807.5 160V161M808.5 161V162M809.5 161V162M810.5 162V164M811.5 164V165M812.5 165V166M813.5 166V168M814.5 168V169M815.5 169V170M816.5 169V170M817.5 170V171M818.5 171V172M819.5 172V173M820.5 172V173M821.5 173V175M822.5 175V177M823.5 177V180M824.5 180V182M825.5 182V185M826.5 185V187M827.5 187V189M828.5 189V191M829.5 191V192M830.5 192V193M831.5 193V195M832.5 195V196M833.5 196V198M834.5 198V199M835.5 199V200M836.5 199V200M837.5 200V201M838.5 200V201M839.5 201V202M840.5 201V202M841.5 200V201M842.5 200V201M843.5 199V200M844.5 198V199M845.5 197V198M846.5 197V198M847.5 196V197M848.5 195V196M849.5 195V196M850.5 194V195M851.5 193V194M852.5 193V194M853.5 192V193M854.5 191V192M855.5 190V191M856.5 189V190M857.5 188V189M858.5 187V188M859.5 186V187M860.5 185V186M861.5 184V185M862.5 183V184M863.5 183V184M864.5 182V183M865.5 181V182M866.5 179V181M867.5 178V179M868.5 176V178M869.5 175V176M870.5 173V175M871.5 171V173M872.5 170V171M873.5 168V170M874.5 166V168M875.5 162V166M876.5 159V162M877.5 156V159M878.5 152V156M879.5 149V152M880.5 147V149M881.5 144V147M882.5 141V144M883.5 139V141M884.5 136V139M885.5 134V136M886.5 132V134M887.5 130V132M888.5 129V130M889.5 127V129M890.5 125V127M891.5 123V125M892.5 122V123M893.5 121V122M894.5 119V121M895.5 118V119M896.5 117V118M897.5 115V117M898.5 114V115M899.5 113V114M900.5 113V114M901.5 112V113M902.5 112V113M903.5 111V112M904.5 111V112M905.5 110V111M906.5 110V111M907.5 111V112M908.5 112V113M909.5 113V115M910.5 115V116M911.5 116V117M912.5 117V118M913.5 118V120M914.5 120V122M915.5 122V124M916.5 124V126M917.5 126V128M918.5 128V130M919.5 130V132M920.5 132V134M921.5 134V136M922.5 136V138M923.5 138V140M924.5 140V142M925.5 142V144M926.5 144V146M927.5 146V148M928.5 148V149" fill="none" stroke="#0000ff" stroke-width="1"/>
<path d="M5.5 281V284M6.5 276V281M7.5 270V276M8.5 265V270M9.5 262V265M10.5 260V262M11.5 258V260M12.5 256V258M13.5 255V256M14.5 254V255M15.5 252V254M16.5 251V252M17.5 250V251M18.5 249V250M19.5 248V249M20.5 248V249M21.5 247V248M22.5 247V248M23.5 247V248M24.5 248V249M25.5 249V251M26.5 251V252M27.5 252V253M28.5 253V255M29.5 255V256M30.5 256V258M31.5 258V260M32.5 260V262M33.5 262V264M34.5 264V266M35.5 266V267M36.5 266V267M37.5 266V267M38.5 266V267M39.5 265V266M40.5 265V266M41.5 265V266M42.5 265V266M43.5 266V267M44.5 266V267M45.5 266V267M46.5 267V268M47.5 268V269M48.5 269V271M49.5 271V272M50.5 272V273M51.5 273V275M52.5 275V276M53.5 276V277M54.5 277V278M55.5 278V279M56.5 279V280M57.5 280V281M58.5 281V282M59.5 281V282M60.5 280V281M61.5 279V280M62.5 278V279M63.5 278V279M64.5 278V279M65.5 279V280M66.5 279V280M67.5 279V280M68.5 279V280M69.5 278V279M70.5 278V279M71.5 278V279M72.5 277V278M73.5 276V277M74.5 276V277M75.5 275V276M76.5 274V275M77.5 273V274M78.5 272V273M79.5 271V272M80.5 269V271M81.5 268V269M82.5 266V268M83.5 265V266M84.5 263V265M85.5 261V263M86.5 259V261M87.5 258V259M88.5 256V258M89.5 254V256M90.5 252V254M91.5 249V252M92.5 247V249M93.5 244V247M94.5 242V244M95.5 239V242M96.5 235V239M97.5 232V235M98.5 228V232M99.5 225V228M100.5 222V225M101.5 220V222M102.5 217V220M103.5 215V217M104.5 213V215M105.5 211V213M106.5 209V211M107.5 207V209M108.5 205V207M109.5 203V205M110.5 201V203M111.5 199V201M112.5 197V199M113.5 196V197M114.5 194V196M115.5 193V194M116.5 191V193M117.5 190V191M118.5 189V190M119.5 189V190M120.5 190V192M121.5 192V193M122.5 193V194M123.5 194V196M124.5 196V197M125.5 197V199M126.5 199V200M127.5 200V202M128.5 202V204M129.5 204V205M130.5 205V207M131.5 207V208M132.5 208V210M133.5 210V211M134.5 211V212M135.5 212V214M136.5 214V215M137.5 215V217M138.5 217V219M139.5 219V221M140.5 221V222M141.5 222V223M142.5 223V225M143.5 225V226M144.5 225V226M145.5 224V225M146.5 224V225M147.5 223V224M148.5 223V224M149.5 222V223M150.5 222V223M151.5 221V222M152.5 221V222M153.5 219V221M154.5 216V219M155.5 214V216M156.5 211V214M157.5 209V211M158.5 208V209M159.5 207V208M160.5 206V207M161.5 205V206M162.5 206V207M163.5 207V209M164.5 209V211M165.5 211V215M166.5 215V218M167.5 218V222M168.5 222V225M169.5 225V229M170.5 229V233M171.5 233V237M172.5 237V241M173.5 241V245M174.5 245V248M175.5 248V250M176.5 250V253M177.5 253V258M178.5 258V263M179.5 263V268M180.5 268V272M181.5 272V276M182.5 276V279M183.5 279V283M184.5 283V287M185.5 287V291M186.5 291V296M187.5 296V302M188.5 302V306M189.5 306V309M190.5 309V311M191.5 310V311M192.5 311V312M193.5 311V312M194.5 312V313M195.5 312V313M196.5 312V313M197.5 312V313M198.5 311V312M199.5 311V312M200.5 311V312M201.5 311V312M202.5 310V311M203.5 308V310M204.5 307V308M205.5 306V307M206.5 304V306M207.5 302V304M208.5 300V302M209.5 299V300M210.5 298V299M211.5 297V298M212.5 297V298M213.5 296V297M214.5 295V296M215.5 295V296M216.5 295V296M217.5 295V296M218.5 295V296M219.5 295V296M220.5 296V297M221.5 297V298M222.5 297V298M223.5 298V299M224.5 299V300M225.5 298V299M226.5 297V298M227.5 296V297M228.5 295V296M229.5 294V295M230.5 293V294M231.5 293V294M232.5 292V293M233.5 292V293M234.5 292V293M235.5 292V293M236.5 292V293M237.5 292V293M238.5 291V292M239.5 290V291M240.5 289V290M241.5 288V289M242.5 286V288M243.5 284V286M244.5 282V284M245.5 280V282M246.5 278V280M247.5 275V278M248.5 273V275M249.5 271V273M250.5 269V271M251.5 268V269M252.5 266V268M253.5 265V266M254.5 265V266M255.5 265V266M256.5 265V266M257.5 265V266M258.5 265V266M259.5 264V265M260.5 263V264M261.5 262V263M262.5 261V262M263.5 260V261M264.5 259V260M265.5 258V259M266.5 257V258M267.5 256V257M268.5 255V256M269.5 254V255M270.5 254V255M271.5 253V254M272.5 252V253M273.5 253V254M274.5 254V255M275.5 254V255M276.5 255V256M277.5 256V257M278.5 256V257M279.5 257V258M280.5 257V258M281.5 257V258M282.5 258V259M283.5 258V259M284.5 258V259M285.5 258V259M286.5 259V260M287.5 259V260M288.5 259V260M289.5 260V261M290.5 260V261M291.5 261V262M292.5 262V263M293.5 262V263M294.5 263V264M295.5 263V264M296.5 264V265M297.5 264V265M298.5 264V265M299.5 264V265M300.5 263V264M301.5 263V264M302.5 262V263M303.5 262V263M304.5 262V263M305.5 261V262M306.5 261V262M307.5 261V262M308.5 262V263M309.5 262V263M310.5 263V264M311.5 263V264M312.5 264V265M313.5 265V266M314.5 266V267M315.5 267V268M316.5 268V269M317.5 269V270M318.5 270V272M319.5 272V274M320.5 274V277M321.5 277V279M322.5 279V282M323.5 282V285M324.5 285V287M325.5 287V290M326.5 290V292M327.5 292V294M328.5 294V297M329.5 297V299M330.5 299V301M331.5 301V303M332.5 303V305M333.5 305V307M334.5 307V309M335.5 309V311M336.5 311V314M337.5 314V316M338.5 316V319M339.5 319V322M340.5 322V324M341.5 324V327M342.5 327V331M343.5 331V335M344.5 335V338M345.5 338V342M346.5 342V346M347.5 346V349M348.5 349V353M349.5 353V357M350.5 357V361M351.5 361V365M352.5 365V369M353.5 369V373M354.5 373V378M355.5 378V382M356.5 382V386M357.5 386V389M358.5 389V393M359.5 393V397M360.5 397V400M361.5 400V403M362.5 403V406M363.5 406V409M364.5 409V412M365.5 412V415M366.5 415V417M367.5 417V419M368.5 419V422M369.5 422V424M370.5 424V426M371.5 425V426M372.5 426V427M373.5 426V427M374.5 426V427M375.5 427V428M376.5 427V428M377.5 428V429M378.5 429V431M379.5 431V432M380.5 432V433M381.5 432V433M382.5 433V434M383.5 433V434M384.5 434V435M385.5 434V435M386.5 435V436M387.5 436V437M388.5 437V438M389.5 438V439M390.5 439V440M391.5 439V440M392.5 439V440M393.5 440V441M394.5 440V441M395.5 440V441M396.5 440V441M397.5 439V440M398.5 438V439M399.5 438V439M400.5 437V438M401.5 436V437M402.5 435V436M403.5 434V435M404.5 433V434M405.5 432V433M406.5 431V432M407.5 430V431M408.5 429V430M409.5 428V429M410.5 426V428M411.5 425V426M412.5 424V425M413.5 422V424M414.5 418V422M415.5 414V418M416.5 410V414M417.5 407V410M418.5 403V407M419.5 400V403M420.5 396V400M421.5 392V396M422.5 388V392M423.5 383V388M424.5 379V383M425.5 375V379M426.5 371V375M427.5 367V371M428.5 363V367M429.5 358V363M430.5 354V358M431.5 350V354M432.5 344V350M433.5 337V344M434.5 329V337M435.5 322V329M436.5 316V322M437.5 310V316M438.5 305V310M439.5 299V305M440.5 293V299M441.5 286V293M442.5 276V286M443.5 270V276M444.5 266V270M445.5 263V266M446.5 259V263M447.5 255V259M448.5 252V255M449.5 249V252M450.5 245V249M451.5 242V245M452.5 240V242M453.5 238V240M454.5 237V238M455.5 235V237M456.5 234V235M457.5 232V234M458.5 231V232M459.5 230V231M460.5 229V230M461.5 228V229M462.5 227V228M463.5 226V227M464.5 225V226M465.5 224V225M466.5 224V225M467.5 223V224M468.5 223V224M469.5 223V224M470.5 223V224M471.5 222V223M472.5 222V223M473.5 222V223M474.5 222V223M475.5 222V223M476.5 223V225M477.5 225V227M478.5 227V229M479.5 229V232M480.5 232V235M481.5 235V238M482.5 238V242M483.5 242V245M484.5 245V248M485.5 248V252M486.5 252V255M487.5 255V259M488.5 259V263M489.5 263V267M490.5 267V272M491.5 272V276M492.5 276V281M493.5 281V285M494.5 285V289M495.5 289V293M496.5 293V297M497.5 297V301M498.5 301V306M499.5 306V310M500.5 310V314M501.5 314V319M502.5 319V323M503.5 323V326M504.5 326V328M505.5 328V329M506.5 329V330M507.5 330V332M508.5 332V333M509.5 333V334M510.5 333V334M511.5 334V335M512.5 333V335M513.5 331V333M514.5 329V331M515.5 327V329M516.5 324V327M517.5 322V324M518.5 320V322M519.5 318V320M520.5 316V318M521.5 314V316M522.5 311V314M523.5 309V311M524.5 307V309M525.5 304V307M526.5 302V304M527.5 300V302M528.5 298V300M529.5 296V298M530.5 295V296M531.5 294V295M532.5 292V294M533.5 291V292M534.5 290V291M535.5 288V290M536.5 287V288M537.5 286V287M538.5 284V286M539.5 283V284M540.5 282V283M541.5 282V283M542.5 283V284M543.5 283V284M544.5 284V285M545.5 284V285M546.5 285V287M547.5 287V288M548.5 288V290M549.5 290V291M550.5 291V293M551.5 293V295M552.5 295V297M553.5 297V299M554.5 299V301M555.5 301V303M556.5 303V305M557.5 305V307M558.5 307V309M559.5 309V311M560.5 311V313M561.5 313V315M562.5 315V316M563.5 316V318M564.5 318V320M565.5 320V322M566.5 322V323M567.5 323V325M568.5 325V326M569.5 326V327M570.5 327V329M571.5 329V330M572.5 330V332M573.5 332V333M574.5 332V333M575.5 332V333M576.5 333V334M577.5 333V334M578.5 333V334M579.5 331V333M580.5 330V331M581.5 328V330M582.5 327V328M583.5 325V327M584.5 324V325M585.5 322V324M586.5 320V322M587.5 318V320M588.5 316V318M589.5 314V316M590.5 312V314M591.5 310V312M592.5 309V310M593.5 308V309M594.5 306V308M595.5 305V306M596.5 305V306M597.5 305V306M598.5 306V307M599.5 306V307M600.5 306V307M601.5 307V308M602.5 308V309M603.5 308V309M604.5 309V310M605.5 310V311M606.5 310V311M607.5 310V311M608.5 309V310M609.5 309V310M610.5 309V310M611.5 309V310M612.5 310V311M613.5 311V312M614.5 312V313M615.5 312V313M616.5 313V314M617.5 314V315M618.5 315V317M619.5 317V319M620.5 319V321M621.5 321V322M622.5 321V322M623.5 322V323M624.5 322V323M625.5 321V323M626.5 318V321M627.5 315V318M628.5 312V315M629.5 310V312M630.5 308V310M631.5 307V308M632.5 306V307M633.5 304V306M634.5 303V304M635.5 303V304M636.5 304V305M637.5 304V305M638.5 304V305M639.5 304V305M640.5 305V306M641.5 305V306M642.5 305V306M643.5 306V307M644.5 306V307M645.5 306V307M646.5 305V306M647.5 305V306M648.5 304V305M649.5 304V305M650.5 305V306M651.5 306V307M652.5 306V307M653.5 307V308M654.5 308V310M655.5 310V312M656.5 312V313M657.5 313V314M658.5 314V315M659.5 315V316M660.5 316V317M661.5 317V318M662.5 317V318M663.5 317V318M664.5 316V317M665.5 316V317M666.5 316V317M667.5 316V317M668.5 316V317M669.5 316V317M670.5 316V317M671.5 316V317M672.5 316V317M673.5 316V317M674.5 317V318M675.5 317V318M676.5 318V319M677.5 318V319M678.5 317V318M679.5 316V317M680.5 315V316M681.5 314V315M682.5 312V314M683.5 310V312M684.5 308V310M685.5 306V308M686.5 304V306M687.5 301V304M688.5 298V301M689.5 296V298M690.5 293V296M691.5 290V293M692.5 287V290M693.5 285V287M694.5 282V285M695.5 280V282M696.5 277V280M697.5 273V277M698.5 271V273M699.5 269V271M700.5 267V269M701.5 265V267M702.5 263V265M703.5 261V263M704.5 260V261M705.5 258V260M706.5 257V258M707.5 256V257M708.5 256V257M709.5 255V256M710.5 255V256M711.5 256V258M712.5 258V259M713.5 259V260M714.5 260V262M715.5 262V263M716.5 263V264M717.5 264V266M718.5 266V267M719.5 267V268M720.5 268V269M721.5 269V270M722.5 270V271M723.5 271V272M724.5 272V273M725.5 273V274M726.5 273V274M727.5 272V273M728.5 272V273M729.5 271V272M730.5 271V272M731.5 269V271M732.5 268V269M733.5 266V268M734.5 264V266M735.5 262V264M736.5 259V262M737.5 257V259M738.5 255V257M739.5 252V255M740.5 250V252M741.5 248V250M742.5 246V248M743.5 245V246M744.5 245V246M745.5 244V245M746.5 243V244M747.5 242V243M748.5 242V243M749.5 241V242M750.5 242V243M751.5 243V244M752.5 244V246M753.5 246V247M754.5 247V248M755.5 248V249M756.5 249V250M757.5 249V250M758.5 250V251M759.5 250V251M760.5 251V252M761.5 251V252M762.5 249V251M763.5 248V249M764.5 247V248M765.5 245V247M766.5 243V245M767.5 240V243M768.5 237V240M769.5 234V237M770.5 231V234M771.5 228V231M772.5 225V228M773.5 221V225M774.5 217V221M775.5 213V217M776.5 209V213M777.5 205V209M778.5 200V205M779.5 194V200M780.5 188V194M781.5 182V188M782.5 177V182M783.5 171V177M784.5 166V171M785.5 162V166M786.5 158V162M787.5 154V158M788.5 150V154M789.5 148V150M790.5 146V148M791.5 145V146M792.5 145V146M793.5 144V145M794.5 143V144M795.5 142V143M796.5 142V143M797.5 141V142M798.5 142V144M799.5 144V145M800.5 145V146M801.5 146V148M802.5 148V150M803.5 150V152M804.5 152V154M805.5 154V157M806.5 157V159M807.5 159V162M808.5 162V166M809.5 166V170M810.5 170V174M811.5 174V177M812.5 177V181M813.5 181V184M814.5 184V186M815.5 186V188M816.5 188V190M817.5 190V192M818.5 192V194M819.5 194V196M820.5 196V197M821.5 197V198M822.5 198V199M823.5 199V200M824.5 200V201M825.5 201V202M826.5 201V202M827.5 202V203M828.5 202V203M829.5 201V202M830.5 201V202M831.5 200V201M832.5 200V201M833.5 199V200M834.5 199V200M835.5 198V199M836.5 198V199M837.5 197V198M838.5 197V198M839.5 196V197M840.5 196V197M841.5 195V196M842.5 195V196M843.5 195V196M844.5 194V195M845.5 194V195M846.5 194V195M847.5 194V195M848.5 193V194M849.5 193V194M850.5 193V194M851.5 192V193M852.5 191V192M853.5 190V191M854.5 189V190M855.5 188V189M856.5 186V188M857.5 184V186M858.5 182V184M859.5 180V182M860.5 178V180M861.5 176V178M862.5 175V176M863.5 173V175M864.5 172V173M865.5 170V172M866.5 169V170M867.5 167V169M868.5 165V167M869.5 163V165M870.5 161V163M871.5 159V161M872.5 157V159M873.5 155V157M874.5 152V155M875.5 148V152M876.5 144V148M877.5 140V144M878.5 136V140M879.5 132V136M880.5 129V132M881.5 126V129M882.5 122V126M883.5 119V122M884.5 116V119M885.5 114V116M886.5 112V114M887.5 110V112M888.5 108V110M889.5 107V108M890.5 106V107M891.5 104V106M892.5 103V104M893.5 102V103M894.5 100V102M895.5 99V100M896.5 98V99M897.5 98V99M898.5 98V99M899.5 98V99M900.5 98V99M901.5 99V101M902.5 101V102M903.5 102V104M904.5 104V106M905.5 106V108M906.5 108V111M907.5 111V115M908.5 115V118M909.5 118V122M910.5 122V126M911.5 126V131M912.5 131V135M913.5 135V138M914.5 138V142M915.5 142V145M916.5 145V147M917.5 147V150M918.5 150V152M919.5 152V155M920.5 155V158M921.5 158V161M922.5 161V163M923.5 162V163M924.5 163V164M925.5 163V164M926.5 163V164M927.5 163V164M928.5 163V164" fill="none" stroke="#ff0000" stroke-width="1"/>
<rect x="5" y="43" width="1162" height="2" fill="#ff0000"/>
<rect x="5" y="165" width="1162" height="2" fill="#ff0000"/>
<rect x="5" y="268" width="1162" height="2" fill="#00ff00"/>
<rect x="5" y="346" width="1162" height="2" fill="#0000ff"/>
<rect x="5" y="444" width="1162" height="2" fill="#0000ff"/>
<rect x="6" y="41" width="223" height="62" fill="#fff"/><rect x="5" y="43" width="1" height="1" fill="#fff"/>
<path d="M15.5 256V283M17.5 243V270M19.5 237V268M23.5 244V268M27.5 251V287M35.5 284V309M37.5 263V291M39.5 259V283M41.5 257V268M47.5 258V283M53.5 273V287M59.5 280V323M61.5 273V287M63.5 264V294M67.5 264V287M69.5 235V278M73.5 255V273M75.5 246V267M79.5 238V267M81.5 212V254M85.5 234V252M89.5 228V247M91.5 213V244M93.5 193V225M95.5 182V213M99.5 180V198M101.5 175V186M107.5 181V210M109.5 174V193M111.5 176V191M115.5 162V184M123.5 222V239M125.5 221V236M133.5 224V233M135.5 224V235M139.5 197V261M143.5 193V221M153.5 187V227M155.5 170V199M157.5 183V205M159.5 178V191M167.5 305V334M171.5 306V320M173.5 301V315M177.5 305V322M183.5 317V332M185.5 305V323M187.5 296V337M191.5 299V317M197.5 306V322M199.5 295V320M201.5 252V312M205.5 264V300M211.5 254V288M219.5 312V328M225.5 276V349M227.5 267V293M231.5 265V287M235.5 248V276M237.5 248V273M239.5 252V271M241.5 255V271M243.5 256V274M245.5 246V265M247.5 226V254M255.5 264V293M257.5 258V281M261.5 222V281M267.5 231V244M269.5 229V242M271.5 214V246M279.5 276V287M281.5 279V288M283.5 263V296M287.5 252V300M291.5 257V271M293.5 247V265M295.5 236V265M299.5 234V251M317.5 297V308M319.5 269V304M325.5 319V340M327.5 310V325M329.5 309V324M333.5 292V328M351.5 413V432M353.5 405V420M357.5 411V439M359.5 404V431M361.5 415V427M371.5 432V452M375.5 425V437M377.5 425V438M381.5 440V469M383.5 436V457M389.5 447V456M391.5 422V457M395.5 403V467M397.5 413V424M399.5 409V427M407.5 408V427M411.5 402V421M413.5 394V411M415.5 392V414M417.5 343V400M419.5 313V349M421.5 306V325M425.5 304V320M427.5 284V314M429.5 258V305M433.5 247V265M435.5 240V268M439.5 230V258M441.5 211V237M445.5 210V222M451.5 201V221M457.5 227V248M463.5 223V238M465.5 209V233M469.5 204V220M473.5 212V219M485.5 296V311M491.5 341V364M495.5 333V350M497.5 329V342M501.5 342V376M503.5 313V354M505.5 311V332M509.5 318V332M513.5 294V321M515.5 256V302M519.5 260V299M521.5 244V263M525.5 274V309M527.5 268V293M529.5 264V288M535.5 268V299M539.5 273V291M545.5 288V304M551.5 324V338M555.5 335V350M557.5 332V343M563.5 333V361M567.5 313V358M573.5 303V340M579.5 320V335M581.5 316V329M583.5 281V325M585.5 262V309M589.5 264V287M595.5 271V306M605.5 344V369M607.5 303V358M609.5 270V322M611.5 286V309M623.5 285V354M627.5 287V318M629.5 266V291M637.5 303V328M643.5 299V321M647.5 294V326M653.5 320V332M655.5 316V332M659.5 319V344M663.5 317V330M665.5 311V321M667.5 296V313M677.5 317V332M681.5 294V330M683.5 266V303M685.5 253V279M689.5 251V266M691.5 237V274M693.5 222V250M695.5 210V238M697.5 223V246M711.5 290V303M717.5 271V299M719.5 271V295M723.5 263V278M725.5 247V275M727.5 207V254M733.5 215V240M739.5 224V246M745.5 246V277M749.5 246V259M753.5 255V299M755.5 254V279M757.5 246V262M759.5 250V263M761.5 243V262M763.5 197V252M765.5 166V211M769.5 166V193M771.5 154V174M775.5 162V181M777.5 136V173M779.5 108V144M781.5 102V123M783.5 91V108M797.5 156V174M807.5 197V215M809.5 193V208M813.5 212V232M817.5 164V235M819.5 163V199M827.5 198V232M829.5 193V220M831.5 189V225M833.5 189V201M837.5 186V227M841.5 188V204M843.5 185V199M845.5 164V194M855.5 170V189M857.5 166V183M859.5 137V178M861.5 129V171M865.5 130V161M873.5 117V157M875.5 84V130M877.5 64V93M881.5 84V98M883.5 69V95M885.5 48V88M893.5 102V118M895.5 93V133M899.5 120V147M901.5 129V140M903.5 122V143M911.5 190V215M915.5 181V211M917.5 167V189M921.5 151V180M925.5 151V168M927.5 141V160M929.5 143V150" stroke="#ff0000" stroke-width="1" fill="none"/>
<path d="M5.5 209V242M7.5 207V244M9.5 232V283M11.5 265V277M13.5 266V278M21.5 237V263M25.5 246V287M29.5 253V266M31.5 267V284M33.5 266V309M43.5 252V280M45.5 266V285M49.5 267V278M51.5 272V288M55.5 275V297M57.5 276V323M65.5 266V278M71.5 258V275M77.5 243V258M83.5 224V256M87.5 235V247M97.5 177V196M103.5 165V196M105.5 178V208M117.5 167V225M119.5 192V225M121.5 215V254M127.5 213V249M129.5 217V249M131.5 223V235M137.5 223V249M141.5 197V225M145.5 190V205M147.5 191V207M149.5 200V208M151.5 196V222M161.5 178V200M163.5 187V287M165.5 278V315M169.5 295V317M175.5 282V322M179.5 298V319M181.5 311V327M189.5 287V324M193.5 302V313M195.5 309V320M203.5 280V309M207.5 262V281M209.5 264V279M213.5 254V302M215.5 290V310M217.5 307V324M221.5 307V329M223.5 316V351M229.5 261V283M233.5 265V277M249.5 235V298M251.5 270V287M253.5 271V281M259.5 259V286M263.5 213V242M265.5 225V242M273.5 226V258M275.5 250V283M277.5 267V291M285.5 253V309M289.5 250V272M297.5 225V258M301.5 238V255M303.5 249V257M305.5 260V274M307.5 260V295M309.5 258V305M311.5 297V311M313.5 299V317M315.5 300V317M321.5 268V333M323.5 303V336M331.5 301V337M335.5 293V335M337.5 303V375M339.5 369V382M341.5 376V393M343.5 380V404M345.5 383V411M347.5 403V430M349.5 411V431M355.5 403V449M363.5 415V430M365.5 417V433M367.5 421V440M369.5 414V448M373.5 427V436M379.5 426V452M385.5 437V450M387.5 443V452M393.5 434V475M403.5 400V433M405.5 406V433M409.5 409V422M423.5 297V317M431.5 256V270M437.5 247V260M443.5 213V229M447.5 212V238M449.5 217V229M453.5 205V251M455.5 226V243M459.5 227V240M461.5 228V239M467.5 207V223M471.5 209V220M475.5 205V231M477.5 223V267M479.5 262V304M481.5 299V314M483.5 305V317M487.5 299V342M489.5 320V363M493.5 343V352M499.5 333V374M507.5 310V362M511.5 319V342M517.5 268V316M523.5 258V321M531.5 264V287M533.5 278V304M537.5 268V298M541.5 277V294M543.5 279V306M547.5 279V326M549.5 282V342M553.5 327V349M559.5 329V354M561.5 330V363M565.5 326V343M569.5 309V341M571.5 310V344M575.5 314V338M577.5 315V340M587.5 263V291M591.5 272V286M593.5 280V300M597.5 252V305M599.5 279V354M601.5 347V367M603.5 354V374M613.5 285V298M615.5 283V295M617.5 293V321M619.5 303V333M621.5 322V357M625.5 297V323M631.5 265V296M633.5 279V320M635.5 296V328M639.5 302V321M641.5 302V313M645.5 291V321M649.5 300V325M651.5 318V332M657.5 302V357M661.5 329V344M669.5 290V305M671.5 296V308M673.5 304V311M675.5 309V332M679.5 306V336M687.5 255V267M699.5 224V247M701.5 236V253M703.5 244V264M705.5 254V294M707.5 256V290M709.5 282V301M713.5 289V301M715.5 287V315M721.5 271V286M729.5 202V249M731.5 235V243M735.5 218V242M737.5 222V235M741.5 222V275M743.5 250V269M747.5 247V264M751.5 250V293M767.5 172V200M773.5 156V176M785.5 98V111M787.5 91V130M789.5 114V162M791.5 149V167M793.5 154V168M795.5 153V168M799.5 151V196M801.5 186V215M803.5 193V224M805.5 199V217M811.5 191V230M815.5 215V235M821.5 163V193M823.5 175V218M825.5 191V224M835.5 178V223M839.5 182V201M847.5 142V194M849.5 148V194M851.5 179V194M853.5 177V192M863.5 137V174M867.5 132V162M869.5 133V156M871.5 122V154M879.5 66V88M887.5 62V107M889.5 74V110M891.5 90V122M897.5 85V155M905.5 118V140M907.5 121V158M909.5 153V216M913.5 187V203M919.5 167V183M923.5 145V179" stroke="#32cd32" stroke-width="1" fill="none"/>
<path d="M113.5 173V184M401.5 402V411" stroke="#000000" stroke-width="1" fill="none"/>
<rect x="4" y="266" width="6" height="6" fill="#00ff00"/><rect x="6" y="268" width="2" height="2" fill="#fff"/>
<rect x="1161" y="266" width="6" height="6" fill="#00ff00"/><rect x="1163" y="268" width="2" height="2" fill="#fff"/>
<rect x="4" y="344" width="6" height="6" fill="#0000ff"/><rect x="6" y="346" width="2" height="2" fill="#fff"/>
<rect x="1161" y="344" width="6" height="6" fill="#0000ff"/><rect x="1163" y="346" width="2" height="2" fill="#fff"/>
<path d="M5.5 495V541M6.5 495V541M7.5 496V541M8.5 496V541M9.5 497V541M10.5 497V541M11.5 503V541M12.5 503V541M13.5 505V541M14.5 505V541M15.5 507V541M16.5 507V541M17.5 508V541M18.5 508V541M19.5 510V541M20.5 510V541M21.5 512V541M22.5 512V541M23.5 515V541M24.5 515V541M25.5 517V541M26.5 517V541M27.5 520V541M28.5 520V541M29.5 522V541M30.5 522V541M31.5 524V541M32.5 524V541M33.5 526V541M34.5 526V541M35.5 527V541M36.5 527V541M37.5 528V541M38.5 528V541M39.5 529V541M40.5 529V541M41.5 530V541M42.5 530V541M43.5 531V541M44.5 531V541M45.5 532V541M46.5 532V541M47.5 533V541M48.5 533V541M49.5 534V541M50.5 534V541M51.5 536V541M52.5 536V541M53.5 537V541M54.5 537V541M55.5 539V541M56.5 539V541M57.5 540V541M58.5 540V541M59.5 540V541M60.5 540V541M61.5 540V541M62.5 540V541M63.5 540V541M64.5 540V541M65.5 540V541M66.5 540V541M67.5 540V541M68.5 540V541M69.5 539V541M70.5 539V541M71.5 538V541M72.5 538V541M73.5 537V541M74.5 537V541M75.5 536V541M76.5 536V541M77.5 536V541M78.5 536V541M79.5 535V541M80.5 535V541M81.5 534V541M82.5 534V541M83.5 534V541M84.5 534V541M85.5 534V541M86.5 534V541M87.5 533V541M88.5 533V541M89.5 533V541M90.5 533V541M91.5 532V541M92.5 532V541M93.5 530V541M94.5 530V541M95.5 528V541M96.5 528V541M97.5 527V541M98.5 527V541M99.5 526V541M100.5 526V541M101.5 525V541M102.5 525V541M103.5 525V541M104.5 525V541M105.5 526V541M106.5 526V541M107.5 526V541M108.5 526V541M109.5 527V541M110.5 527V541M111.5 528V541M112.5 528V541M113.5 528V541M114.5 528V541M115.5 530V541M116.5 530V541M117.5 532V541M118.5 532V541M119.5 534V541M120.5 534V541M121.5 536V541M122.5 536V541M123.5 538V541M124.5 538V541M125.5 539V541M126.5 539V541M127.5 540V541M128.5 540V541M129.5 541V542M130.5 541V542M131.5 541V543M132.5 541V543M133.5 541V544M134.5 541V544M135.5 541V545M136.5 541V545M137.5 541V544M138.5 541V544M139.5 541V543M140.5 541V543M141.5 540V541M142.5 540V541M143.5 539V541M144.5 539V541M145.5 538V541M146.5 538V541M147.5 538V541M148.5 538V541M149.5 539V541M150.5 539V541M151.5 539V541M152.5 539V541M153.5 538V541M154.5 538V541M155.5 537V541M156.5 537V541M157.5 536V541M158.5 536V541M159.5 535V541M160.5 535V541M161.5 537V541M162.5 537V541M163.5 540V541M164.5 540V541M165.5 541V550M166.5 541V550M167.5 541V554M168.5 541V554M169.5 541V557M170.5 541V557M171.5 541V559M172.5 541V559M173.5 541V560M174.5 541V560M175.5 541V561M176.5 541V561M177.5 541V562M178.5 541V562M179.5 541V562M180.5 541V562M181.5 541V563M182.5 541V563M183.5 541V563M184.5 541V563M185.5 541V562M186.5 541V562M187.5 541V561M188.5 541V561M189.5 541V561M190.5 541V561M191.5 541V560M192.5 541V560M193.5 541V559M194.5 541V559M195.5 541V558M196.5 541V558M197.5 541V557M198.5 541V557M199.5 541V556M200.5 541V556M201.5 541V554M202.5 541V554M203.5 541V552M204.5 541V552M205.5 541V551M206.5 541V551M207.5 541V549M208.5 541V549M209.5 541V547M210.5 541V547M211.5 541V547M212.5 541V547M213.5 541V546M214.5 541V546M215.5 541V547M216.5 541V547M217.5 541V548M218.5 541V548M219.5 541V549M220.5 541V549M221.5 541V551M222.5 541V551M223.5 541V551M224.5 541V551M225.5 541V549M226.5 541V549M227.5 541V547M228.5 541V547M229.5 541V545M230.5 541V545M231.5 541V544M232.5 541V544M233.5 541V542M234.5 541V542M235.5 540V541M236.5 540V541M237.5 538V541M238.5 538V541M239.5 537V541M240.5 537V541M241.5 536V541M242.5 536V541M243.5 536V541M244.5 536V541M245.5 535V541M246.5 535V541M247.5 534V541M248.5 534V541M249.5 536V541M250.5 536V541M251.5 537V541M252.5 537V541M253.5 537V541M254.5 537V541M255.5 537V541M256.5 537V541M257.5 537V541M258.5 537V541M259.5 537V541M260.5 537V541M261.5 536V541M262.5 536V541M263.5 535V541M264.5 535V541M265.5 534V541M266.5 534V541M267.5 534V541M268.5 534V541M269.5 533V541M270.5 533V541M271.5 533V541M272.5 533V541M273.5 535V541M274.5 535V541M275.5 537V541M276.5 537V541M277.5 539V541M278.5 539V541M279.5 541V542M280.5 541V542M281.5 541V543M282.5 541V543M283.5 541V544M284.5 541V544M285.5 541V545M286.5 541V545M287.5 541V544M288.5 541V544M289.5 541V543M290.5 541V543M291.5 541V542M292.5 541V542M293.5 539V541M294.5 539V541M295.5 539V541M296.5 539V541M297.5 538V541M298.5 538V541M299.5 538V541M300.5 538V541M301.5 538V541M302.5 538V541M303.5 539V541M304.5 539V541M305.5 539V541M306.5 539V541M307.5 540V541M308.5 540V541M309.5 541V544M310.5 541V544M311.5 541V546M312.5 541V546M313.5 541V547M314.5 541V547M315.5 541V548M316.5 541V548M317.5 541V549M318.5 541V549M319.5 541V550M320.5 541V550M321.5 541V551M322.5 541V551M323.5 541V552M324.5 541V552M325.5 541V553M326.5 541V553M327.5 541V553M328.5 541V553M329.5 541V553M330.5 541V553M331.5 541V553M332.5 541V553M333.5 541V553M334.5 541V553M335.5 541V553M336.5 541V553M337.5 541V555M338.5 541V555M339.5 541V558M340.5 541V558M341.5 541V560M342.5 541V560M343.5 541V563M344.5 541V563M345.5 541V565M346.5 541V565M347.5 541V567M348.5 541V567M349.5 541V568M350.5 541V568M351.5 541V568M352.5 541V568M353.5 541V569M354.5 541V569M355.5 541V569M356.5 541V569M357.5 541V568M358.5 541V568M359.5 541V567M360.5 541V567M361.5 541V567M362.5 541V567M363.5 541V566M364.5 541V566M365.5 541V566M366.5 541V566M367.5 541V565M368.5 541V565M369.5 541V565M370.5 541V565M371.5 541V564M372.5 541V564M373.5 541V563M374.5 541V563M375.5 541V563M376.5 541V563M377.5 541V562M378.5 541V562M379.5 541V561M380.5 541V561M381.5 541V561M382.5 541V561M383.5 541V560M384.5 541V560M385.5 541V559M386.5 541V559M387.5 541V559M388.5 541V559M389.5 541V558M390.5 541V558M391.5 541V557M392.5 541V557M393.5 541V557M394.5 541V557M395.5 541V555M396.5 541V555M397.5 541V553M398.5 541V553M399.5 541V551M400.5 541V551M401.5 541V549M402.5 541V549M403.5 541V548M404.5 541V548M405.5 541V547M406.5 541V547M407.5 541V546M408.5 541V546M409.5 541V545M410.5 541V545M411.5 541V545M412.5 541V545M413.5 541V543M414.5 541V543M415.5 540V541M416.5 540V541M417.5 536V541M418.5 536V541M419.5 531V541M420.5 531V541M421.5 528V541M422.5 528V541M423.5 526V541M424.5 526V541M425.5 523V541M426.5 523V541M427.5 519V541M428.5 519V541M429.5 517V541M430.5 517V541M431.5 515V541M432.5 515V541M433.5 513V541M434.5 513V541M435.5 512V541M436.5 512V541M437.5 511V541M438.5 511V541M439.5 510V541M440.5 510V541M441.5 509V541M442.5 509V541M443.5 508V541M444.5 508V541M445.5 508V541M446.5 508V541M447.5 509V541M448.5 509V541M449.5 510V541M450.5 510V541M451.5 510V541M452.5 510V541M453.5 512V541M454.5 512V541M455.5 514V541M456.5 514V541M457.5 516V541M458.5 516V541M459.5 518V541M460.5 518V541M461.5 519V541M462.5 519V541M463.5 520V541M464.5 520V541M465.5 520V541M466.5 520V541M467.5 521V541M468.5 521V541M469.5 522V541M470.5 522V541M471.5 523V541M472.5 523V541M473.5 524V541M474.5 524V541M475.5 526V541M476.5 526V541M477.5 531V541M478.5 531V541M479.5 535V541M480.5 535V541M481.5 540V541M482.5 540V541M483.5 541V544M484.5 541V544M485.5 541V546M486.5 541V546M487.5 541V549M488.5 541V549M489.5 541V553M490.5 541V553M491.5 541V555M492.5 541V555M493.5 541V556M494.5 541V556M495.5 541V557M496.5 541V557M497.5 541V558M498.5 541V558M499.5 541V559M500.5 541V559M501.5 541V559M502.5 541V559M503.5 541V558M504.5 541V558M505.5 541V557M506.5 541V557M507.5 541V556M508.5 541V556M509.5 541V555M510.5 541V555M511.5 541V554M512.5 541V554M513.5 541V552M514.5 541V552M515.5 541V549M516.5 541V549M517.5 541V546M518.5 541V546M519.5 541V544M520.5 541V544M521.5 541V542M522.5 541V542M523.5 540V541M524.5 540V541M525.5 539V541M526.5 539V541M527.5 539V541M528.5 539V541M529.5 538V541M530.5 538V541M531.5 538V541M532.5 538V541M533.5 539V541M534.5 539V541M535.5 539V541M536.5 539V541M537.5 539V541M538.5 539V541M539.5 538V541M540.5 538V541M541.5 538V541M542.5 538V541M543.5 539V541M544.5 539V541M545.5 539V541M546.5 539V541M547.5 540V541M548.5 540V541M549.5 541V543M550.5 541V543M551.5 541V545M552.5 541V545M553.5 541V547M554.5 541V547M555.5 541V549M556.5 541V549M557.5 541V549M558.5 541V549M559.5 541V550M560.5 541V550M561.5 541V551M562.5 541V551M563.5 541V551M564.5 541V551M565.5 541V552M566.5 541V552M567.5 541V551M568.5 541V551M569.5 541V550M570.5 541V550M571.5 541V549M572.5 541V549M573.5 541V549M574.5 541V549M575.5 541V548M576.5 541V548M577.5 541V548M578.5 541V548M579.5 541V547M580.5 541V547M581.5 541V545M582.5 541V545M583.5 541V543M584.5 541V543M585.5 540V541M586.5 540V541M587.5 539V541M588.5 539V541M589.5 538V541M590.5 538V541M591.5 537V541M592.5 537V541M593.5 536V541M594.5 536V541M595.5 537V541M596.5 537V541M597.5 539V541M598.5 539V541M599.5 541V543M600.5 541V543M601.5 541V545M602.5 541V545M603.5 541V547M604.5 541V547M605.5 541V547M606.5 541V547M607.5 541V546M608.5 541V546M609.5 541V544M610.5 541V544M611.5 541V542M612.5 541V542M613.5 540V541M614.5 540V541M615.5 539V541M616.5 539V541M617.5 540V541M618.5 540V541M619.5 541V542M620.5 541V542M621.5 541V543M622.5 541V543M623.5 541V543M624.5 541V543M625.5 540V541M626.5 540V541M627.5 539V541M628.5 539V541M629.5 538V541M630.5 538V541M631.5 539V541M632.5 539V541M633.5 540V541M634.5 540V541M635.5 540V541M636.5 540V541M637.5 540V541M638.5 540V541M639.5 540V541M640.5 540V541M641.5 540V541M642.5 540V541M643.5 541V542M644.5 541V542M645.5 541V542M646.5 541V542M647.5 541V543M648.5 541V543M649.5 541V544M650.5 541V544M651.5 541V545M652.5 541V545M653.5 541V545M654.5 541V545M655.5 541V546M656.5 541V546M657.5 541V546M658.5 541V546M659.5 541V546M660.5 541V546M661.5 541V546M662.5 541V546M663.5 541V546M664.5 541V546M665.5 541V546M666.5 541V546M667.5 541V545M668.5 541V545M669.5 541V544M670.5 541V544M671.5 541V543M672.5 541V543M673.5 541V543M674.5 541V543M675.5 541V542M676.5 541V542M677.5 541V542M678.5 541V542M679.5 541V542M680.5 541V542M681.5 539V541M682.5 539V541M683.5 538V541M684.5 538V541M685.5 536V541M686.5 536V541M687.5 534V541M688.5 534V541M689.5 532V541M690.5 532V541M691.5 530V541M692.5 530V541M693.5 529V541M694.5 529V541M695.5 528V541M696.5 528V541M697.5 528V541M698.5 528V541M699.5 527V541M700.5 527V541M701.5 528V541M702.5 528V541M703.5 530V541M704.5 530V541M705.5 532V541M706.5 532V541M707.5 534V541M708.5 534V541M709.5 536V541M710.5 536V541M711.5 538V541M712.5 538V541M713.5 539V541M714.5 539V541M715.5 540V541M716.5 540V541M717.5 540V541M718.5 540V541M719.5 540V541M720.5 540V541M721.5 540V541M722.5 540V541M723.5 540V541M724.5 540V541M725.5 538V541M726.5 538V541M727.5 535V541M728.5 535V541M729.5 534V541M730.5 534V541M731.5 533V541M732.5 533V541M733.5 532V541M734.5 532V541M735.5 532V541M736.5 532V541M737.5 531V541M738.5 531V541M739.5 531V541M740.5 531V541M741.5 533V541M742.5 533V541M743.5 534V541M744.5 534V541M745.5 535V541M746.5 535V541M747.5 536V541M748.5 536V541M749.5 538V541M750.5 538V541M751.5 539V541M752.5 539V541M753.5 539V541M754.5 539V541M755.5 539V541M756.5 539V541M757.5 540V541M758.5 540V541M759.5 540V541M760.5 540V541M761.5 539V541M762.5 539V541M763.5 536V541M764.5 536V541M765.5 532V541M766.5 532V541M767.5 530V541M768.5 530V541M769.5 528V541M770.5 528V541M771.5 526V541M772.5 526V541M773.5 524V541M774.5 524V541M775.5 523V541M776.5 523V541M777.5 521V541M778.5 521V541M779.5 520V541M780.5 520V541M781.5 518V541M782.5 518V541M783.5 516V541M784.5 516V541M785.5 515V541M786.5 515V541M787.5 516V541M788.5 516V541M789.5 518V541M790.5 518V541M791.5 521V541M792.5 521V541M793.5 524V541M794.5 524V541M795.5 526V541M796.5 526V541M797.5 528V541M798.5 528V541M799.5 531V541M800.5 531V541M801.5 535V541M802.5 535V541M803.5 538V541M804.5 538V541M805.5 540V541M806.5 540V541M807.5 541V542M808.5 541V542M809.5 541V544M810.5 541V544M811.5 541V545M812.5 541V545M813.5 541V547M814.5 541V547M815.5 541V546M816.5 541V546M817.5 541V545M818.5 541V545M819.5 541V544M820.5 541V544M821.5 541V544M822.5 541V544M823.5 541V544M824.5 541V544M825.5 541V545M826.5 541V545M827.5 541V545M828.5 541V545M829.5 541V545M830.5 541V545M831.5 541V545M832.5 541V545M833.5 541V545M834.5 541V545M835.5 541V545M836.5 541V545M837.5 541V545M838.5 541V545M839.5 541V545M840.5 541V545M841.5 541V543M842.5 541V543M843.5 540V541M844.5 540V541M845.5 540V541M846.5 540V541M847.5 540V541M848.5 540V541M849.5 539V541M850.5 539V541M851.5 539V541M852.5 539V541M853.5 539V541M854.5 539V541M855.5 538V541M856.5 538V541M857.5 537V541M858.5 537V541M859.5 537V541M860.5 537V541M861.5 536V541M862.5 536V541M863.5 535V541M864.5 535V541M865.5 534V541M866.5 534V541M867.5 533V541M868.5 533V541M869.5 532V541M870.5 532V541M871.5 530V541M872.5 530V541M873.5 528V541M874.5 528V541M875.5 527V541M876.5 527V541M877.5 525V541M878.5 525V541M879.5 523V541M880.5 523V541M881.5 522V541M882.5 522V541M883.5 521V541M884.5 521V541M885.5 521V541M886.5 521V541M887.5 523V541M888.5 523V541M889.5 525V541M890.5 525V541M891.5 526V541M892.5 526V541M893.5 528V541M894.5 528V541M895.5 530V541M896.5 530V541M897.5 532V541M898.5 532V541M899.5 533V541M900.5 533V541M901.5 535V541M902.5 535V541M903.5 536V541M904.5 536V541M905.5 538V541M906.5 538V541M907.5 541V543M908.5 541V543M909.5 541V547M910.5 541V547M911.5 541V549M912.5 541V549M913.5 541V551M914.5 541V551M915.5 541V552M916.5 541V552M917.5 541V551M918.5 541V551M919.5 541V551M920.5 541V551M921.5 541V551M922.5 541V551M923.5 541V550M924.5 541V550M925.5 541V549M926.5 541V549M927.5 541V548M928.5 541V548M929.5 541V547M930.5 541V547" stroke="#c0c0c0" stroke-width="1" fill="none"/>
<path d="M5.5 495V496M6.5 495V496M7.5 495V496M8.5 494V495M9.5 494V495M10.5 494V495M11.5 495V496M12.5 495V496M13.5 496V497M14.5 497V498M15.5 497V498M16.5 498V499M17.5 498V499M18.5 499V500M19.5 500V501M20.5 501V502M21.5 502V504M22.5 504V505M23.5 505V506M24.5 506V507M25.5 507V508M26.5 508V509M27.5 509V510M28.5 510V511M29.5 511V512M30.5 512V513M31.5 513V514M32.5 514V515M33.5 515V516M34.5 516V517M35.5 517V518M36.5 518V519M37.5 519V520M38.5 520V521M39.5 521V522M40.5 521V522M41.5 522V523M42.5 523V524M43.5 524V525M44.5 525V526M45.5 526V527M46.5 526V527M47.5 527V528M48.5 528V529M49.5 528V529M50.5 529V530M51.5 529V530M52.5 530V531M53.5 531V532M54.5 531V532M55.5 532V533M56.5 532V533M57.5 533V534M58.5 533V534M59.5 534V535M60.5 534V535M61.5 535V536M62.5 535V536M63.5 536V537M64.5 536V537M65.5 537V538M66.5 537V538M67.5 538V539M68.5 538V539M69.5 538V539M70.5 538V539M71.5 538V539M72.5 538V539M73.5 538V539M74.5 538V539M75.5 538V539M76.5 538V539M77.5 538V539M78.5 537V538M79.5 537V538M80.5 537V538M81.5 537V538M82.5 536V537M83.5 536V537M84.5 536V537M85.5 536V537M86.5 536V537M87.5 535V536M88.5 535V536M89.5 535V536M90.5 535V536M91.5 535V536M92.5 534V535M93.5 534V535M94.5 534V535M95.5 533V534M96.5 533V534M97.5 532V533M98.5 532V533M99.5 531V532M100.5 531V532M101.5 530V531M102.5 530V531M103.5 529V530M104.5 529V530M105.5 528V529M106.5 528V529M107.5 527V528M108.5 527V528M109.5 526V527M110.5 526V527M111.5 526V527M112.5 526V527M113.5 525V526M114.5 525V526M115.5 525V526M116.5 525V526M117.5 525V526M118.5 526V527M119.5 526V527M120.5 527V528M121.5 527V528M122.5 528V529M123.5 528V529M124.5 529V530M125.5 530V531M126.5 530V531M127.5 531V532M128.5 532V533M129.5 533V534M130.5 534V535M131.5 534V535M132.5 535V536M133.5 536V537M134.5 537V538M135.5 537V538M136.5 538V539M137.5 539V540M138.5 539V540M139.5 540V541M140.5 540V541M141.5 540V541M142.5 541V542M143.5 541V542M144.5 541V542M145.5 541V542M146.5 541V542M147.5 541V542M148.5 541V542M149.5 540V541M150.5 540V541M151.5 540V541M152.5 540V541M153.5 540V541M154.5 540V541M155.5 539V540M156.5 539V540M157.5 539V540M158.5 539V540M159.5 538V539M160.5 538V539M161.5 538V539M162.5 538V539M163.5 539V540M164.5 539V540M165.5 539V540M166.5 540V541M167.5 540V541M168.5 541V542M169.5 542V544M170.5 544V545M171.5 545V546M172.5 546V548M173.5 548V549M174.5 549V550M175.5 550V551M176.5 551V552M177.5 552V554M178.5 554V555M179.5 555V556M180.5 556V557M181.5 557V558M182.5 557V558M183.5 558V559M184.5 558V559M185.5 559V560M186.5 559V560M187.5 559V560M188.5 560V561M189.5 560V561M190.5 560V561M191.5 560V561M192.5 560V561M193.5 559V560M194.5 559V560M195.5 559V560M196.5 559V560M197.5 559V560M198.5 558V559M199.5 558V559M200.5 557V558M201.5 557V558M202.5 556V557M203.5 556V557M204.5 555V556M205.5 555V556M206.5 554V555M207.5 553V554M208.5 553V554M209.5 552V553M210.5 551V552M211.5 550V551M212.5 550V551M213.5 549V550M214.5 548V549M215.5 548V549M216.5 547V548M217.5 547V548M218.5 546V547M219.5 546V547M220.5 546V547M221.5 546V547M222.5 546V547M223.5 546V547M224.5 546V547M225.5 546V547M226.5 546V547M227.5 546V547M228.5 546V547M229.5 546V547M230.5 546V547M231.5 546V547M232.5 546V547M233.5 546V547M234.5 546V547M235.5 545V546M236.5 545V546M237.5 544V545M238.5 544V545M239.5 543V544M240.5 543V544M241.5 542V543M242.5 542V543M243.5 541V542M244.5 540V541M245.5 540V541M246.5 539V540M247.5 539V540M248.5 538V539M249.5 538V539M250.5 537V538M251.5 537V538M252.5 537V538M253.5 537V538M254.5 536V537M255.5 536V537M256.5 536V537M257.5 536V537M258.5 536V537M259.5 536V537M260.5 537V538M261.5 537V538M262.5 537V538M263.5 537V538M264.5 537V538M265.5 537V538M266.5 536V537M267.5 536V537M268.5 536V537M269.5 536V537M270.5 535V536M271.5 535V536M272.5 535V536M273.5 535V536M274.5 535V536M275.5 535V536M276.5 535V536M277.5 535V536M278.5 535V536M279.5 535V536M280.5 535V536M281.5 536V537M282.5 536V537M283.5 537V538M284.5 537V538M285.5 538V539M286.5 538V539M287.5 539V540M288.5 539V540M289.5 540V541M290.5 540V541M291.5 541V542M292.5 541V542M293.5 541V542M294.5 541V542M295.5 541V542M296.5 541V542M297.5 541V542M298.5 541V542M299.5 541V542M300.5 541V542M301.5 541V542M302.5 540V541M303.5 540V541M304.5 540V541M305.5 539V540M306.5 539V540M307.5 539V540M308.5 539V540M309.5 539V540M310.5 539V540M311.5 540V541M312.5 540V541M313.5 541V542M314.5 542V543M315.5 542V543M316.5 543V544M317.5 543V544M318.5 544V545M319.5 545V546M320.5 545V546M321.5 546V547M322.5 546V547M323.5 547V548M324.5 547V548M325.5 548V549M326.5 548V549M327.5 548V549M328.5 549V550M329.5 549V550M330.5 549V550M331.5 550V551M332.5 550V551M333.5 550V551M334.5 550V551M335.5 551V552M336.5 551V552M337.5 551V552M338.5 552V553M339.5 552V553M340.5 553V554M341.5 553V554M342.5 554V555M343.5 554V555M344.5 555V556M345.5 555V556M346.5 556V557M347.5 557V558M348.5 558V559M349.5 559V560M350.5 559V560M351.5 560V561M352.5 561V562M353.5 562V563M354.5 563V564M355.5 563V564M356.5 564V565M357.5 564V565M358.5 565V566M359.5 565V566M360.5 565V566M361.5 565V566M362.5 566V567M363.5 566V567M364.5 566V567M365.5 566V567M366.5 566V567M367.5 566V567M368.5 565V566M369.5 565V566M370.5 565V566M371.5 565V566M372.5 565V566M373.5 564V565M374.5 564V565M375.5 564V565M376.5 564V565M377.5 563V564M378.5 563V564M379.5 563V564M380.5 563V564M381.5 562V563M382.5 562V563M383.5 561V562M384.5 561V562M385.5 561V562M386.5 560V561M387.5 560V561M388.5 559V560M389.5 559V560M390.5 559V560M391.5 558V559M392.5 558V559M393.5 557V558M394.5 557V558M395.5 557V558M396.5 556V557M397.5 556V557M398.5 555V556M399.5 555V556M400.5 554V555M401.5 554V555M402.5 553V554M403.5 553V554M404.5 552V553M405.5 552V553M406.5 551V552M407.5 550V551M408.5 550V551M409.5 549V550M410.5 548V549M411.5 547V548M412.5 547V548M413.5 546V547M414.5 545V546M415.5 544V545M416.5 544V545M417.5 543V544M418.5 542V543M419.5 541V542M420.5 541V542M421.5 540V541M422.5 539V540M423.5 537V539M424.5 536V537M425.5 535V536M426.5 534V535M427.5 532V534M428.5 531V532M429.5 530V531M430.5 528V530M431.5 527V528M432.5 526V527M433.5 524V526M434.5 523V524M435.5 522V523M436.5 520V522M437.5 519V520M438.5 518V519M439.5 517V518M440.5 516V517M441.5 516V517M442.5 515V516M443.5 514V515M444.5 513V514M445.5 513V514M446.5 512V513M447.5 511V512M448.5 511V512M449.5 510V511M450.5 510V511M451.5 510V511M452.5 510V511M453.5 510V511M454.5 510V511M455.5 510V511M456.5 510V511M457.5 510V511M458.5 510V511M459.5 510V511M460.5 511V512M461.5 512V513M462.5 512V513M463.5 513V514M464.5 514V515M465.5 515V516M466.5 515V516M467.5 516V517M468.5 516V517M469.5 517V518M470.5 517V518M471.5 518V519M472.5 519V520M473.5 520V521M474.5 520V521M475.5 521V522M476.5 522V523M477.5 523V524M478.5 523V524M479.5 524V525M480.5 525V526M481.5 525V526M482.5 526V527M483.5 527V528M484.5 528V530M485.5 530V531M486.5 531V532M487.5 532V534M488.5 534V535M489.5 535V537M490.5 537V539M491.5 539V541M492.5 541V543M493.5 543V544M494.5 544V546M495.5 546V547M496.5 547V548M497.5 548V550M498.5 550V551M499.5 551V552M500.5 552V553M501.5 552V553M502.5 553V554M503.5 554V555M504.5 554V555M505.5 554V555M506.5 555V556M507.5 555V556M508.5 555V556M509.5 555V556M510.5 555V556M511.5 554V555M512.5 554V555M513.5 554V555M514.5 554V555M515.5 553V554M516.5 553V554M517.5 552V553M518.5 551V552M519.5 551V552M520.5 550V551M521.5 549V550M522.5 549V550M523.5 548V549M524.5 547V548M525.5 547V548M526.5 546V547M527.5 545V546M528.5 544V545M529.5 543V544M530.5 543V544M531.5 542V543M532.5 541V542M533.5 541V542M534.5 540V541M535.5 540V541M536.5 540V541M537.5 539V540M538.5 539V540M539.5 539V540M540.5 539V540M541.5 539V540M542.5 539V540M543.5 539V540M544.5 539V540M545.5 539V540M546.5 539V540M547.5 539V540M548.5 539V540M549.5 539V540M550.5 539V540M551.5 540V541M552.5 540V541M553.5 541V542M554.5 541V542M555.5 542V543M556.5 542V543M557.5 543V544M558.5 543V544M559.5 544V545M560.5 544V545M561.5 545V546M562.5 545V546M563.5 546V547M564.5 546V547M565.5 547V548M566.5 547V548M567.5 548V549M568.5 548V549M569.5 548V549M570.5 549V550M571.5 549V550M572.5 549V550M573.5 549V550M574.5 549V550M575.5 548V549M576.5 548V549M577.5 548V549M578.5 548V549M579.5 547V548M580.5 547V548M581.5 547V548M582.5 547V548M583.5 546V547M584.5 546V547M585.5 545V546M586.5 545V546M587.5 545V546M588.5 544V545M589.5 544V545M590.5 543V544M591.5 543V544M592.5 542V543M593.5 541V542M594.5 540V541M595.5 540V541M596.5 539V540M597.5 539V540M598.5 539V540M599.5 538V539M600.5 538V539M601.5 538V539M602.5 539V540M603.5 539V540M604.5 540V541M605.5 540V541M606.5 541V542M607.5 541V542M608.5 541V542M609.5 542V543M610.5 542V543M611.5 542V543M612.5 543V544M613.5 543V544M614.5 543V544M615.5 543V544M616.5 543V544M617.5 543V544M618.5 543V544M619.5 543V544M620.5 543V544M621.5 543V544M622.5 543V544M623.5 542V543M624.5 542V543M625.5 541V542M626.5 541V542M627.5 541V542M628.5 540V541M629.5 540V541M630.5 540V541M631.5 540V541M632.5 540V541M633.5 540V541M634.5 540V541M635.5 540V541M636.5 540V541M637.5 540V541M638.5 540V541M639.5 540V541M640.5 540V541M641.5 539V540M642.5 539V540M643.5 539V540M644.5 539V540M645.5 539V540M646.5 539V540M647.5 540V541M648.5 540V541M649.5 540V541M650.5 540V541M651.5 541V542M652.5 541V542M653.5 541V542M654.5 541V542M655.5 542V543M656.5 542V543M657.5 542V543M658.5 542V543M659.5 543V544M660.5 543V544M661.5 543V544M662.5 543V544M663.5 543V544M664.5 543V544M665.5 544V545M666.5 544V545M667.5 544V545M668.5 544V545M669.5 544V545M670.5 544V545M671.5 544V545M672.5 544V545M673.5 543V544M674.5 543V544M675.5 543V544M676.5 543V544M677.5 543V544M678.5 543V544M679.5 542V543M680.5 542V543M681.5 542V543M682.5 542V543M683.5 541V542M684.5 541V542M685.5 541V542M686.5 541V542M687.5 540V541M688.5 540V541M689.5 539V540M690.5 539V540M691.5 539V540M692.5 538V539M693.5 538V539M694.5 537V538M695.5 535V537M696.5 534V535M697.5 533V534M698.5 533V534M699.5 532V533M700.5 532V533M701.5 531V532M702.5 531V532M703.5 530V531M704.5 530V531M705.5 530V531M706.5 530V531M707.5 529V530M708.5 529V530M709.5 529V530M710.5 529V530M711.5 530V531M712.5 531V532M713.5 532V533M714.5 532V533M715.5 533V534M716.5 534V535M717.5 535V536M718.5 535V536M719.5 536V537M720.5 537V538M721.5 537V538M722.5 538V539M723.5 538V539M724.5 538V539M725.5 539V540M726.5 539V540M727.5 539V540M728.5 539V540M729.5 538V539M730.5 538V539M731.5 538V539M732.5 537V538M733.5 537V538M734.5 537V538M735.5 536V537M736.5 536V537M737.5 535V536M738.5 535V536M739.5 535V536M740.5 534V535M741.5 534V535M742.5 534V535M743.5 534V535M744.5 534V535M745.5 534V535M746.5 533V534M747.5 533V534M748.5 533V534M749.5 533V534M750.5 533V534M751.5 534V535M752.5 534V535M753.5 535V536M754.5 536V537M755.5 536V537M756.5 537V538M757.5 537V538M758.5 538V539M759.5 538V539M760.5 539V540M761.5 539V540M762.5 540V541M763.5 540V541M764.5 540V541M765.5 539V540M766.5 539V540M767.5 539V540M768.5 538V539M769.5 538V539M770.5 537V538M771.5 536V537M772.5 535V536M773.5 535V536M774.5 534V535M775.5 533V534M776.5 532V533M777.5 531V532M778.5 530V531M779.5 529V530M780.5 528V529M781.5 527V528M782.5 526V527M783.5 525V526M784.5 524V525M785.5 523V524M786.5 522V523M787.5 522V523M788.5 521V522M789.5 520V521M790.5 520V521M791.5 519V520M792.5 519V520M793.5 519V520M794.5 518V519M795.5 518V519M796.5 519V520M797.5 519V520M798.5 520V521M799.5 520V521M800.5 521V522M801.5 522V524M802.5 524V525M803.5 525V527M804.5 527V529M805.5 529V530M806.5 530V531M807.5 531V532M808.5 532V533M809.5 533V535M810.5 535V536M811.5 536V537M812.5 537V538M813.5 538V539M814.5 539V540M815.5 540V541M816.5 540V541M817.5 541V542M818.5 542V543M819.5 542V543M820.5 543V544M821.5 543V544M822.5 543V544M823.5 543V544M824.5 544V545M825.5 544V545M826.5 544V545M827.5 544V545M828.5 544V545M829.5 544V545M830.5 544V545M831.5 544V545M832.5 544V545M833.5 544V545M834.5 544V545M835.5 544V545M836.5 544V545M837.5 544V545M838.5 544V545M839.5 544V545M840.5 543V544M841.5 543V544M842.5 543V544M843.5 543V544M844.5 543V544M845.5 543V544M846.5 543V544M847.5 542V543M848.5 542V543M849.5 542V543M850.5 542V543M851.5 541V542M852.5 541V542M853.5 541V542M854.5 541V542M855.5 540V541M856.5 540V541M857.5 540V541M858.5 539V540M859.5 539V540M860.5 539V540M861.5 539V540M862.5 538V539M863.5 538V539M864.5 538V539M865.5 537V538M866.5 537V538M867.5 536V537M868.5 536V537M869.5 536V537M870.5 535V536M871.5 535V536M872.5 534V535M873.5 534V535M874.5 533V534M875.5 533V534M876.5 532V533M877.5 532V533M878.5 531V532M879.5 531V532M880.5 530V531M881.5 530V531M882.5 529V530M883.5 529V530M884.5 528V529M885.5 528V529M886.5 527V528M887.5 526V527M888.5 526V527M889.5 525V526M890.5 525V526M891.5 524V525M892.5 524V525M893.5 524V525M894.5 524V525M895.5 524V525M896.5 524V525M897.5 524V525M898.5 525V526M899.5 525V526M900.5 526V527M901.5 527V528M902.5 527V528M903.5 528V529M904.5 529V530M905.5 530V531M906.5 531V532M907.5 531V532M908.5 532V533M909.5 533V534M910.5 534V535M911.5 535V537M912.5 537V538M913.5 538V539M914.5 539V541M915.5 541V542M916.5 542V543M917.5 543V544M918.5 544V545M919.5 544V545M920.5 545V546M921.5 546V547M922.5 547V548M923.5 547V548M924.5 548V549M925.5 548V549M926.5 549V550M927.5 549V550M928.5 550V551M929.5 550V551" fill="none" stroke="#ff0000" stroke-width="1"/>
<path d="M6 600.5H1167M6 635.5H1167" stroke="#c0c0c0" stroke-width="1" stroke-dasharray="3 3" fill="none"/>
<path d="M5.5 590V591M6.5 591V592M7.5 592V595M8.5 595V599M9.5 599V602M10.5 602V603M11.5 602V603M12.5 603V604M13.5 604V606M14.5 606V607M15.5 604V606M16.5 602V604M17.5 601V602M18.5 600V601M19.5 599V600M20.5 600V602M21.5 602V604M22.5 604V605M23.5 605V606M24.5 606V608M25.5 608V610M26.5 610V612M27.5 609V611M28.5 608V609M29.5 609V610M30.5 610V612M31.5 612V614M32.5 614V618M33.5 618V621M34.5 618V620M35.5 616V618M36.5 614V616M37.5 613V614M38.5 612V613M39.5 611V612M40.5 611V612M41.5 612V613M42.5 612V613M43.5 613V614M44.5 614V615M45.5 615V616M46.5 613V615M47.5 612V613M48.5 613V615M49.5 615V617M50.5 617V618M51.5 616V617M52.5 616V617M53.5 617V618M54.5 618V620M55.5 620V622M56.5 622V625M57.5 624V627M58.5 620V624M59.5 617V620M60.5 616V617M61.5 615V616M62.5 614V615M63.5 614V615M64.5 614V615M65.5 615V616M66.5 615V616M67.5 615V616M68.5 614V615M69.5 613V614M70.5 614V615M71.5 614V615M72.5 613V614M73.5 612V613M74.5 611V612M75.5 610V611M76.5 611V612M77.5 612V613M78.5 610V612M79.5 609V610M80.5 607V609M81.5 606V608M82.5 608V610M83.5 610V612M84.5 612V614M85.5 612V613M86.5 611V612M87.5 612V613M88.5 612V613M89.5 610V612M90.5 608V610M91.5 607V608M92.5 606V607M93.5 606V607M94.5 604V606M95.5 602V604M96.5 601V602M97.5 600V601M98.5 600V601M99.5 599V600M100.5 599V600M101.5 599V600M102.5 599V600M103.5 600V602M104.5 602V604M105.5 604V607M106.5 607V609M107.5 607V608M108.5 605V607M109.5 604V605M110.5 603V604M111.5 603V604M112.5 602V603M113.5 603V604M114.5 603V604M115.5 602V603M116.5 601V604M117.5 604V609M118.5 609V613M119.5 613V617M120.5 617V621M121.5 621V624M122.5 624V626M123.5 621V624M124.5 619V621M125.5 621V623M126.5 623V625M127.5 623V624M128.5 622V623M129.5 621V622M130.5 620V621M131.5 620V621M132.5 620V621M133.5 620V621M134.5 620V621M135.5 620V621M136.5 620V621M137.5 621V623M138.5 620V625M139.5 615V620M140.5 614V615M141.5 613V614M142.5 613V614M143.5 612V613M144.5 611V612M145.5 612V613M146.5 613V614M147.5 614V615M148.5 615V616M149.5 616V617M150.5 617V618M151.5 617V619M152.5 615V617M153.5 613V615M154.5 611V613M155.5 610V611M156.5 610V611M157.5 609V610M158.5 609V610M159.5 608V610M160.5 610V614M161.5 614V619M162.5 619V625M163.5 625V632M164.5 632V636M165.5 635V636M166.5 635V636M167.5 635V636M168.5 635V636M169.5 634V635M170.5 634V635M171.5 633V634M172.5 632V633M173.5 631V632M174.5 632V634M175.5 634V636M176.5 633V635M177.5 631V633M178.5 630V631M179.5 631V632M180.5 632V633M181.5 632V633M182.5 633V634M183.5 632V633M184.5 631V632M185.5 629V631M186.5 627V629M187.5 625V627M188.5 626V628M189.5 628V630M190.5 627V629M191.5 626V627M192.5 626V627M193.5 627V628M194.5 627V628M195.5 628V629M196.5 628V629M197.5 627V628M198.5 625V627M199.5 624V625M200.5 623V624M201.5 621V623M202.5 620V621M203.5 618V620M204.5 614V618M205.5 612V614M206.5 613V614M207.5 613V614M208.5 614V615M209.5 614V615M210.5 613V614M211.5 613V615M212.5 615V619M213.5 619V622M214.5 622V623M215.5 623V624M216.5 624V625M217.5 625V626M218.5 626V627M219.5 625V626M220.5 625V626M221.5 626V628M222.5 628V630M223.5 629V632M224.5 623V629M225.5 618V623M226.5 615V618M227.5 613V615M228.5 614V615M229.5 615V616M230.5 614V615M231.5 613V614M232.5 613V614M233.5 614V615M234.5 614V615M235.5 613V614M236.5 613V614M237.5 612V613M238.5 612V613M239.5 612V613M240.5 612V613M241.5 611V612M242.5 611V612M243.5 611V612M244.5 610V611M245.5 609V610M246.5 609V610M247.5 608V611M248.5 611V616M249.5 616V619M250.5 618V619M251.5 618V619M252.5 618V619M253.5 618V619M254.5 618V619M255.5 617V618M256.5 616V617M257.5 615V616M258.5 616V617M259.5 617V619M260.5 617V620M261.5 611V617M262.5 608V611M263.5 609V610M264.5 609V610M265.5 610V611M266.5 610V611M267.5 610V611M268.5 610V611M269.5 609V610M270.5 609V610M271.5 609V611M272.5 611V614M273.5 614V617M274.5 617V621M275.5 621V623M276.5 622V623M277.5 623V624M278.5 623V624M279.5 623V624M280.5 623V624M281.5 623V624M282.5 623V624M283.5 623V624M284.5 624V625M285.5 623V626M286.5 617V623M287.5 614V617M288.5 615V616M289.5 615V616M290.5 616V617M291.5 616V617M292.5 615V616M293.5 614V615M294.5 613V614M295.5 612V613M296.5 612V613M297.5 611V612M298.5 611V612M299.5 611V612M300.5 612V614M301.5 614V616M302.5 616V618M303.5 618V619M304.5 619V620M305.5 619V620M306.5 620V622M307.5 622V624M308.5 624V626M309.5 626V628M310.5 628V629M311.5 628V629M312.5 629V630M313.5 629V630M314.5 629V630M315.5 629V630M316.5 629V630M317.5 627V630M318.5 621V627M319.5 617V621M320.5 620V626M321.5 626V630M322.5 630V631M323.5 630V631M324.5 631V632M325.5 630V631M326.5 629V630M327.5 628V629M328.5 627V628M329.5 626V627M330.5 626V627M331.5 625V626M332.5 624V626M333.5 621V624M334.5 619V622M335.5 622V628M336.5 628V632M337.5 632V634M338.5 634V636M339.5 635V636M340.5 636V637M341.5 636V637M342.5 636V637M343.5 637V638M344.5 637V638M345.5 638V639M346.5 639V640M347.5 639V640M348.5 640V641M349.5 640V641M350.5 640V641M351.5 639V640M352.5 637V639M353.5 636V637M354.5 635V636M355.5 636V638M356.5 637V639M357.5 635V637M358.5 633V635M359.5 633V634M360.5 632V633M361.5 632V633M362.5 632V633M363.5 633V634M364.5 634V635M365.5 634V635M366.5 635V636M367.5 636V637M368.5 636V637M369.5 637V638M370.5 635V637M371.5 633V635M372.5 632V633M373.5 632V633M374.5 632V633M375.5 631V632M376.5 631V632M377.5 631V632M378.5 632V634M379.5 634V636M380.5 634V635M381.5 632V634M382.5 631V632M383.5 630V631M384.5 631V632M385.5 631V632M386.5 632V633M387.5 632V633M388.5 632V633M389.5 631V633M390.5 629V631M391.5 627V629M392.5 629V632M393.5 630V634M394.5 623V630M395.5 619V623M396.5 618V619M397.5 616V618M398.5 615V616M399.5 614V615M400.5 614V615M401.5 614V615M402.5 614V615M403.5 614V615M404.5 615V616M405.5 615V616M406.5 616V617M407.5 616V617M408.5 617V618M409.5 618V619M410.5 616V618M411.5 614V616M412.5 613V614M413.5 612V613M414.5 612V613M415.5 609V612M416.5 604V609M417.5 601V604M418.5 599V601M419.5 597V599M420.5 595V597M421.5 595V596M422.5 596V597M423.5 596V597M424.5 595V596M425.5 595V596M426.5 594V595M427.5 593V594M428.5 591V593M429.5 590V591M430.5 590V591M431.5 591V592M432.5 591V592M433.5 591V592M434.5 591V592M435.5 591V592M436.5 591V592M437.5 591V592M438.5 590V591M439.5 590V591M440.5 589V590M441.5 589V590M442.5 588V589M443.5 588V589M444.5 588V589M445.5 588V589M446.5 589V590M447.5 590V591M448.5 591V592M449.5 591V592M450.5 590V591M451.5 590V593M452.5 593V597M453.5 597V600M454.5 600V601M455.5 600V601M456.5 601V602M457.5 601V602M458.5 601V602M459.5 601V602M460.5 602V603M461.5 602V603M462.5 603V604M463.5 602V603M464.5 600V602M465.5 599V600M466.5 598V599M467.5 598V599M468.5 597V598M469.5 597V598M470.5 598V599M471.5 599V601M472.5 601V602M473.5 602V603M474.5 602V605M475.5 605V610M476.5 610V615M477.5 615V620M478.5 620V624M479.5 624V628M480.5 628V631M481.5 631V632M482.5 632V633M483.5 631V632M484.5 630V631M485.5 629V630M486.5 628V630M487.5 630V634M488.5 634V636M489.5 636V638M490.5 638V640M491.5 637V639M492.5 635V637M493.5 633V635M494.5 632V633M495.5 631V632M496.5 631V632M497.5 630V631M498.5 631V632M499.5 632V634M500.5 633V635M501.5 630V633M502.5 626V630M503.5 623V626M504.5 621V623M505.5 621V622M506.5 622V623M507.5 622V623M508.5 622V623M509.5 622V623M510.5 623V624M511.5 622V624M512.5 619V622M513.5 616V619M514.5 613V616M515.5 611V613M516.5 613V615M517.5 615V617M518.5 612V615M519.5 610V612M520.5 609V610M521.5 608V610M522.5 610V614M523.5 614V618M524.5 618V621M525.5 618V620M526.5 616V618M527.5 614V616M528.5 612V614M529.5 611V612M530.5 612V614M531.5 614V615M532.5 615V617M533.5 617V619M534.5 619V620M535.5 618V619M536.5 617V618M537.5 616V617M538.5 615V616M539.5 615V616M540.5 615V616M541.5 615V616M542.5 615V617M543.5 617V619M544.5 619V621M545.5 619V620M546.5 619V620M547.5 618V620M548.5 620V623M549.5 623V626M550.5 626V628M551.5 626V627M552.5 625V626M553.5 626V628M554.5 628V630M555.5 628V629M556.5 626V628M557.5 625V626M558.5 625V626M559.5 626V627M560.5 626V627M561.5 627V628M562.5 627V628M563.5 626V627M564.5 626V627M565.5 625V626M566.5 624V626M567.5 620V624M568.5 618V620M569.5 619V620M570.5 620V622M571.5 622V623M572.5 621V622M573.5 621V622M574.5 620V621M575.5 620V621M576.5 621V622M577.5 621V622M578.5 621V622M579.5 620V621M580.5 619V620M581.5 618V619M582.5 615V618M583.5 611V615M584.5 607V611M585.5 604V607M586.5 605V607M587.5 607V609M588.5 609V611M589.5 609V610M590.5 608V609M591.5 609V611M592.5 611V612M593.5 612V614M594.5 614V615M595.5 612V614M596.5 611V614M597.5 614V618M598.5 618V622M599.5 622V626M600.5 626V629M601.5 629V630M602.5 630V631M603.5 630V631M604.5 629V632M605.5 625V629M606.5 621V625M607.5 618V621M608.5 616V618M609.5 614V616M610.5 612V614M611.5 611V612M612.5 612V613M613.5 612V613M614.5 613V614M615.5 613V615M616.5 615V617M617.5 617V619M618.5 619V621M619.5 621V622M620.5 622V624M621.5 622V625M622.5 617V622M623.5 614V617M624.5 615V616M625.5 615V616M626.5 614V615M627.5 613V614M628.5 612V613M629.5 611V612M630.5 612V614M631.5 614V616M632.5 616V618M633.5 618V619M634.5 619V620M635.5 620V621M636.5 619V620M637.5 618V619M638.5 618V619M639.5 617V618M640.5 617V618M641.5 618V619M642.5 618V619M643.5 618V619M644.5 617V618M645.5 617V618M646.5 616V617M647.5 617V619M648.5 619V621M649.5 621V622M650.5 622V623M651.5 623V624M652.5 624V625M653.5 623V624M654.5 621V623M655.5 620V621M656.5 621V622M657.5 622V623M658.5 623V624M659.5 623V624M660.5 623V624M661.5 623V624M662.5 621V623M663.5 619V621M664.5 617V619M665.5 616V617M666.5 615V616M667.5 614V615M668.5 613V614M669.5 614V615M670.5 614V615M671.5 615V616M672.5 615V617M673.5 617V619M674.5 619V621M675.5 621V623M676.5 621V622M677.5 620V621M678.5 620V621M679.5 619V621M680.5 616V619M681.5 612V616M682.5 609V612M683.5 607V609M684.5 605V607M685.5 603V605M686.5 604V606M687.5 606V607M688.5 605V606M689.5 604V605M690.5 603V604M691.5 602V603M692.5 601V602M693.5 600V601M694.5 599V600M695.5 599V600M696.5 599V600M697.5 599V600M698.5 599V601M699.5 601V604M700.5 604V607M701.5 607V609M702.5 609V611M703.5 611V613M704.5 613V614M705.5 614V616M706.5 616V618M707.5 618V620M708.5 620V622M709.5 622V624M710.5 623V624M711.5 622V623M712.5 622V623M713.5 622V623M714.5 623V624M715.5 623V624M716.5 621V623M717.5 620V621M718.5 618V620M719.5 617V618M720.5 617V618M721.5 616V617M722.5 616V617M723.5 614V616M724.5 612V614M725.5 610V612M726.5 606V610M727.5 602V606M728.5 600V605M729.5 605V611M730.5 609V610M731.5 608V609M732.5 608V609M733.5 607V608M734.5 606V607M735.5 607V608M736.5 608V609M737.5 608V609M738.5 609V610M739.5 610V612M740.5 612V614M741.5 614V616M742.5 616V618M743.5 617V618M744.5 618V619M745.5 618V619M746.5 618V619M747.5 617V618M748.5 617V618M749.5 618V620M750.5 620V622M751.5 622V624M752.5 624V626M753.5 623V625M754.5 621V623M755.5 619V621M756.5 618V619M757.5 618V619M758.5 617V618M759.5 617V618M760.5 615V617M761.5 613V615M762.5 611V613M763.5 607V611M764.5 603V607M765.5 601V603M766.5 602V603M767.5 603V604M768.5 604V605M769.5 603V604M770.5 602V603M771.5 601V602M772.5 602V603M773.5 603V604M774.5 604V605M775.5 604V605M776.5 604V605M777.5 602V604M778.5 601V602M779.5 599V601M780.5 598V599M781.5 597V598M782.5 596V597M783.5 596V597M784.5 595V596M785.5 596V598M786.5 598V600M787.5 600V603M788.5 603V609M789.5 609V612M790.5 611V612M791.5 612V613M792.5 612V613M793.5 612V613M794.5 613V614M795.5 613V614M796.5 614V615M797.5 614V615M798.5 615V617M799.5 617V619M800.5 619V622M801.5 622V624M802.5 624V625M803.5 625V626M804.5 626V627M805.5 625V626M806.5 624V625M807.5 624V625M808.5 623V624M809.5 622V623M810.5 621V623M811.5 623V625M812.5 625V627M813.5 626V627M814.5 625V626M815.5 625V626M816.5 623V626M817.5 618V623M818.5 615V618M819.5 614V615M820.5 613V614M821.5 614V615M822.5 615V617M823.5 617V619M824.5 619V622M825.5 622V625M826.5 625V627M827.5 621V625M828.5 619V621M829.5 619V620M830.5 618V619M831.5 618V619M832.5 617V618M833.5 617V619M834.5 619V622M835.5 622V624M836.5 621V623M837.5 619V621M838.5 618V619M839.5 617V618M840.5 616V617M841.5 616V617M842.5 615V616M843.5 614V615M844.5 612V614M845.5 611V612M846.5 612V613M847.5 613V614M848.5 614V615M849.5 615V616M850.5 615V616M851.5 616V617M852.5 616V617M853.5 616V617M854.5 615V616M855.5 614V615M856.5 613V614M857.5 612V613M858.5 610V612M859.5 609V610M860.5 607V609M861.5 606V607M862.5 607V609M863.5 609V611M864.5 609V610M865.5 607V609M866.5 606V607M867.5 606V607M868.5 606V607M869.5 606V607M870.5 606V607M871.5 605V607M872.5 603V605M873.5 601V603M874.5 599V601M875.5 597V599M876.5 595V597M877.5 594V596M878.5 596V599M879.5 599V601M880.5 600V601M881.5 600V601M882.5 600V601M883.5 599V600M884.5 598V599M885.5 597V599M886.5 599V603M887.5 603V607M888.5 607V611M889.5 611V613M890.5 612V613M891.5 612V613M892.5 612V613M893.5 611V612M894.5 611V612M895.5 610V612M896.5 612V616M897.5 616V620M898.5 620V623M899.5 620V622M900.5 619V620M901.5 618V619M902.5 617V618M903.5 617V618M904.5 616V618M905.5 618V620M906.5 620V622M907.5 622V625M908.5 625V628M909.5 628V632M910.5 632V634M911.5 631V633M912.5 630V631M913.5 630V631M914.5 628V630M915.5 626V628M916.5 624V626M917.5 624V625M918.5 623V624M919.5 623V624M920.5 622V623M921.5 621V622M922.5 620V621M923.5 620V621M924.5 619V620M925.5 619V620M926.5 618V619M927.5 617V618M928.5 616V617" fill="none" stroke="#1e90ff" stroke-width="1"/>
<path d="M4.5 485.5V25.5H1167.5V485.5" stroke="#000" fill="none"/><path d="M4 485.5H1168" stroke="#000" fill="none"/><path d="M4.5 571.5V487.5H1167.5V571.5" stroke="#000" fill="none"/><path d="M4 571.5H1168" stroke="#000" fill="none"/><path d="M4.5 661.5V573.5H1167.5V661.5" stroke="#000" fill="none"/><path d="M4 661.5H1168" stroke="#000" fill="none"/>
<path d="M1168 53.5H1170M1168 86.5H1170M1168 119.5H1170M1168 152.5H1170M1168 185.5H1170M1168 218.5H1170M1168 251.5H1170M1168 284.5H1170M1168 317.5H1170M1168 350.5H1170M1168 383.5H1170M1168 416.5H1170M1168 449.5H1170M1168 482.5H1170M1168 541.5H1170" stroke="#000" fill="none"/>
<path d="M5.5 662V665M69.5 662V665M133.5 662V665M197.5 662V665M261.5 662V665M325.5 662V665M389.5 662V665M453.5 662V665M517.5 662V665M581.5 662V665M645.5 662V665M709.5 662V665M773.5 662V665M837.5 662V665M901.5 662V665" stroke="#000" fill="none"/>
<g shape-rendering="auto">
<text x="1173" y="57" fill="#000" font-size="9.5" letter-spacing="0" font-weight="normal" text-anchor="start">0.93630</text>
<text x="1173" y="90" fill="#000" font-size="9.5" letter-spacing="0" font-weight="normal" text-anchor="start">0.93360</text>
<text x="1173" y="123" fill="#000" font-size="9.5" letter-spacing="0" font-weight="normal" text-anchor="start">0.93085</text>
<text x="1173" y="156" fill="#000" font-size="9.5" letter-spacing="0" font-weight="normal" text-anchor="start">0.92815</text>
<text x="1173" y="189" fill="#000" font-size="9.5" letter-spacing="0" font-weight="normal" text-anchor="start">0.92545</text>
<text x="1173" y="222" fill="#000" font-size="9.5" letter-spacing="0" font-weight="normal" text-anchor="start">0.92270</text>
<text x="1173" y="255" fill="#000" font-size="9.5" letter-spacing="0" font-weight="normal" text-anchor="start">0.92000</text>
<text x="1173" y="288" fill="#000" font-size="9.5" letter-spacing="0" font-weight="normal" text-anchor="start">0.91730</text>
<text x="1173" y="321" fill="#000" font-size="9.5" letter-spacing="0" font-weight="normal" text-anchor="start">0.91455</text>
<text x="1173" y="354" fill="#000" font-size="9.5" letter-spacing="0" font-weight="normal" text-anchor="start">0.91185</text>
<text x="1173" y="387" fill="#000" font-size="9.5" letter-spacing="0" font-weight="normal" text-anchor="start">0.90915</text>
<text x="1173" y="420" fill="#000" font-size="9.5" letter-spacing="0" font-weight="normal" text-anchor="start">0.90640</text>
<text x="1173" y="453" fill="#000" font-size="9.5" letter-spacing="0" font-weight="normal" text-anchor="start">0.90370</text>
<text x="1173" y="486" fill="#000" font-size="9.5" letter-spacing="0" font-weight="normal" text-anchor="start">0.90100</text>
<rect x="1169" y="38" width="36" height="11" fill="#ff0000"/>
<text x="1173" y="47" fill="#fff" font-size="9.5" letter-spacing="0" font-weight="normal" text-anchor="start">0.93702</text>
<rect x="1169" y="140" width="36" height="11" fill="#000000"/>
<text x="1173" y="149" fill="#fff" font-size="9.5" letter-spacing="0" font-weight="normal" text-anchor="start">0.92876</text>
<rect x="1169" y="160" width="36" height="11" fill="#ff0000"/>
<text x="1173" y="169" fill="#fff" font-size="9.5" letter-spacing="0" font-weight="normal" text-anchor="start">0.92699</text>
<rect x="1169" y="263" width="36" height="11" fill="#00ff00"/>
<text x="1173" y="272" fill="#fff" font-size="9.5" letter-spacing="0" font-weight="normal" text-anchor="start">0.91855</text>
<rect x="1169" y="341" width="36" height="11" fill="#0000ff"/>
<text x="1173" y="350" fill="#fff" font-size="9.5" letter-spacing="0" font-weight="normal" text-anchor="start">0.91208</text>
<rect x="1169" y="439" width="36" height="11" fill="#0000ff"/>
<text x="1173" y="448" fill="#fff" font-size="9.5" letter-spacing="0" font-weight="normal" text-anchor="start">0.90405</text>
<text x="1171" y="498" fill="#000" font-size="9.5" letter-spacing="0" font-weight="normal" text-anchor="start">0.006364</text>
<text x="1171" y="545" fill="#000" font-size="9.5" letter-spacing="0" font-weight="normal" text-anchor="start">0.00</text>
<text x="1171" y="569" fill="#000" font-size="9.5" letter-spacing="0" font-weight="normal" text-anchor="start">-0.003501</text>
<text x="1171" y="584" fill="#000" font-size="9.5" letter-spacing="0" font-weight="normal" text-anchor="start">100</text>
<text x="1171" y="604" fill="#000" font-size="9.5" letter-spacing="0" font-weight="normal" text-anchor="start">70</text>
<text x="1171" y="639" fill="#000" font-size="9.5" letter-spacing="0" font-weight="normal" text-anchor="start">30</text>
<text x="1171" y="658" fill="#000" font-size="9.5" letter-spacing="0" font-weight="normal" text-anchor="start">0</text>
<text x="4" y="674" fill="#000" font-size="9.5" letter-spacing="-0.241" font-weight="normal" text-anchor="start">21 Jun 2021</text>
<text x="68" y="674" fill="#000" font-size="9.5" letter-spacing="-0.217" font-weight="normal" text-anchor="start">28 Jun 19:00</text>
<text x="132.3" y="674" fill="#000" font-size="9.5" letter-spacing="-0.141" font-weight="normal" text-anchor="start">6 Jul 00:00</text>
<text x="196.3" y="674" fill="#000" font-size="9.5" letter-spacing="-0.175" font-weight="normal" text-anchor="start">13 Jul 10:00</text>
<text x="260.3" y="674" fill="#000" font-size="9.5" letter-spacing="-0.175" font-weight="normal" text-anchor="start">20 Jul 18:00</text>
<text x="324.3" y="674" fill="#000" font-size="9.5" letter-spacing="-0.15" font-weight="normal" text-anchor="start">28 Jul 00:00</text>
<text x="388.3" y="674" fill="#000" font-size="9.5" letter-spacing="-0.005" font-weight="normal" text-anchor="start">4 Aug 10:00</text>
<text x="452.3" y="674" fill="#000" font-size="9.5" letter-spacing="0.033" font-weight="normal" text-anchor="start">11 Aug 18:00</text>
<text x="516.3" y="674" fill="#000" font-size="9.5" letter-spacing="-0.025" font-weight="normal" text-anchor="start">19 Aug 00:00</text>
<text x="580.3" y="674" fill="#000" font-size="9.5" letter-spacing="-0.008" font-weight="normal" text-anchor="start">26 Aug 10:00</text>
<text x="644.3" y="674" fill="#000" font-size="9.5" letter-spacing="-0.095" font-weight="normal" text-anchor="start">2 Sep 18:00</text>
<text x="708.3" y="674" fill="#000" font-size="9.5" letter-spacing="-0.1" font-weight="normal" text-anchor="start">10 Sep 00:00</text>
<text x="772.3" y="674" fill="#000" font-size="9.5" letter-spacing="-0.117" font-weight="normal" text-anchor="start">17 Sep 10:00</text>
<text x="836.3" y="674" fill="#000" font-size="9.5" letter-spacing="-0.125" font-weight="normal" text-anchor="start">24 Sep 18:00</text>
<text x="900.3" y="674" fill="#000" font-size="9.5" letter-spacing="-0.041" font-weight="normal" text-anchor="start">2 Oct 00:00</text>
<text x="20.5" y="37" fill="#000" font-size="9.5" letter-spacing="0.16" font-weight="normal" text-anchor="start">USDCHF,H4</text>
<text x="80.9" y="37" fill="#000" font-size="9.5" letter-spacing="-0.145" font-weight="normal" text-anchor="start">0.92869 0.92891 0.92848 0.92876</text>
<path d="M8 36L11.75 32L15.5 36Z" fill="#000"/>
<text x="9.5" y="500" fill="#000" font-size="9.5" letter-spacing="-0.1" font-weight="normal" text-anchor="start">MACD(12,26,9) -0.000498 -0.000881</text>
<text x="9.5" y="586" fill="#000" font-size="9.5" letter-spacing="-0.17" font-weight="normal" text-anchor="start">RSI(14) 51.7725</text>
</g>
</svg>
<div id="tp">
 <div class="pp" style="left:0;width:109px"></div>
 <div class="pp" style="left:111px;width:108px"></div>
 <div class="btn" style="left:0"><span>SELL</span></div>
 <div class="btn" style="left:167px"><span style="letter-spacing:-0.6px">BUY</span></div>
 <div class="ul" style="left:4px;width:44px"></div><div class="ul2" style="left:4px;width:44px"></div>
 <div class="ul" style="left:171px;width:44px"></div><div class="ul2" style="left:171px;width:44px"></div>
 <div id="vol">
   <div class="sp" style="left:1px"></div><div style="left:20px;top:0;width:1px;height:20px;background:#b4b4b4"></div>
   <div class="sp" style="left:89px"></div><div style="left:88px;top:0;width:1px;height:20px;background:#b4b4b4"></div>
   <span style="left:39px;width:46px;text-align:right;top:4px;font-size:12px;line-height:12px;color:#000">3.00</span>
 </div>
 <span class="small" style="left:19.5px;top:42px">0.92</span><span class="big" style="left:47.5px;top:23.7px">87</span><span class="sup" style="left:88px;top:27px">9</span>
 <span class="small" style="left:129.7px;top:42px">0.92</span><span class="big r" style="left:158.5px;top:23.7px">89</span><span class="sup" style="left:199px;top:27px">3</span>
</div>
<svg width="1205" height="707" viewBox="0 0 1205 707" style="pointer-events:none">
<path d="M69.8 53.8H75.6L72.7 57.4Z" fill="#5666b6"/><path d="M158.8 57.2H164.8L161.8 53.7Z" fill="#5666b6"/>
</svg>
<div id="tabbar"><div class="l1"></div><div class="l0"></div><div class="l2"></div><div class="bg"></div><div class="ls"></div>
<div id="acttab"></div>
<span class="tab" style="left:18.7px;letter-spacing:-0.23px">EURUSD,H4</span><span class="tab" style="left:108.7px;letter-spacing:0.125px">AUDUSD,Daily</span><span class="tab act" style="left:212.5px;letter-spacing:-0.12px">USDCHF,H4</span><span class="tab" style="left:300.8px;letter-spacing:0.02px">USDCAD,Daily</span><span class="tab" style="left:404.6px;letter-spacing:0.03px">USDCNH,Daily</span><span class="tab" style="left:508.9px;letter-spacing:0.41px">UKOil,M15</span><span class="tab" style="left:592px;letter-spacing:0.01px">DJ30,H1</span><span class="tab" style="left:662px;letter-spacing:-0.14px">USDX,H1</span><span class="tab" style="left:737.7px;letter-spacing:-0.06px">XAUUSD,H4</span><span class="tab" style="left:830.5px;letter-spacing:-0.28px">GBPUSD,H1</span><i class="sep" style="left:98px"></i><i class="sep" style="left:393px"></i><i class="sep" style="left:498px"></i><i class="sep" style="left:582px"></i><i class="sep" style="left:651px"></i><i class="sep" style="left:726px"></i><i class="sep" style="left:819px"></i><i class="sep" style="left:910px"></i>
<i class="arr" style="left:1183px;border-right:4px solid #9a9a9a"></i>
<i class="arr" style="left:1202px;border-left:4px solid #9a9a9a"></i>
</div>
</body></html>
